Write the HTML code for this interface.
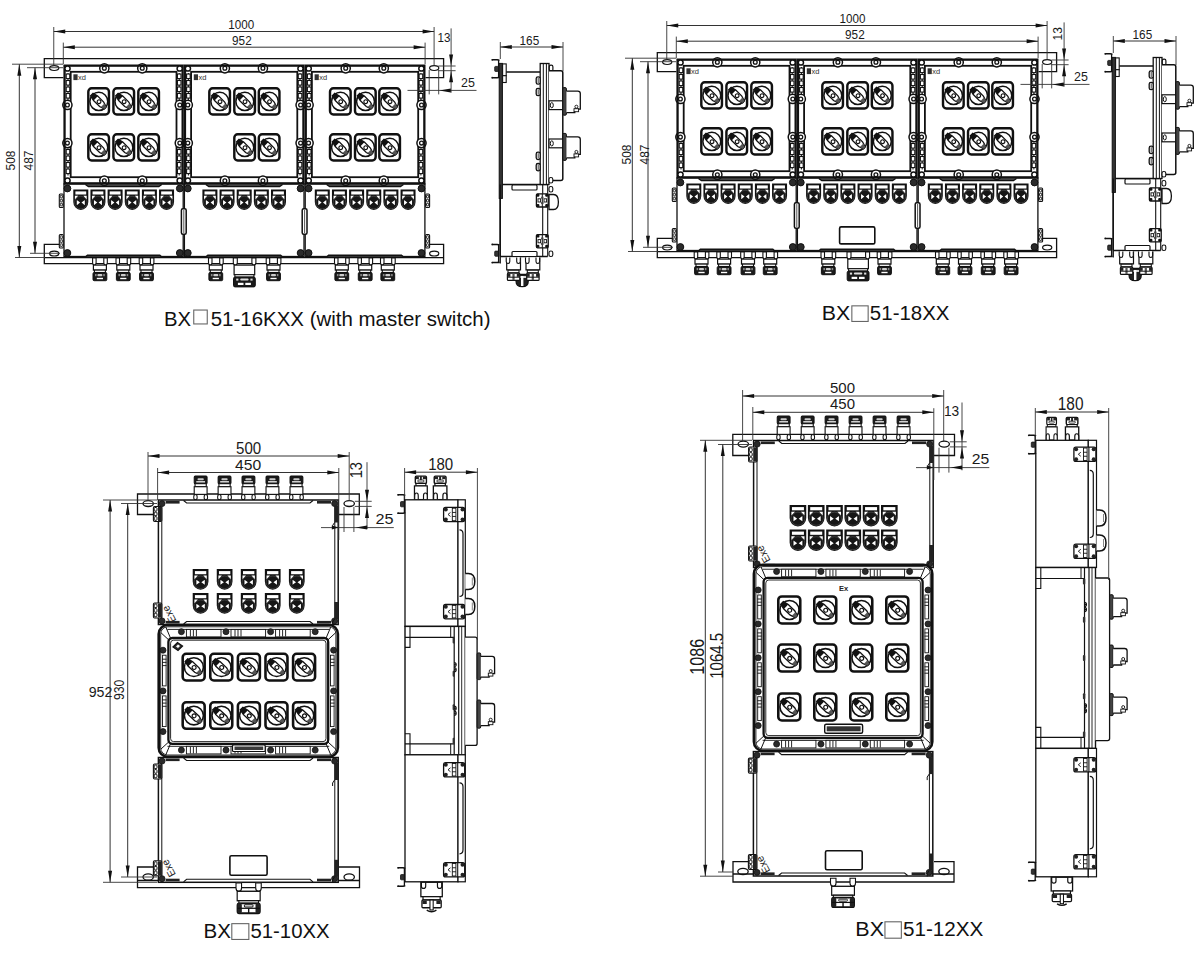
<!DOCTYPE html>
<html><head><meta charset="utf-8"><title>BX51 drawings</title>
<style>html,body{margin:0;padding:0;background:#fff;width:1200px;height:957px;overflow:hidden}
svg{display:block;font-family:"Liberation Sans",sans-serif}</style></head>
<body>
<svg width="1200" height="957" viewBox="0 0 1200 957" font-family="Liberation Sans, sans-serif">
<rect width="1200" height="957" fill="#fff"/>

<defs>
 <g id="sw">
  <rect x="1.3" y="1.3" width="22.2" height="27.4" rx="3.6" fill="#fff" stroke="#111" stroke-width="2.6"/>
  <circle cx="12.6" cy="15" r="9.6" fill="none" stroke="#111" stroke-width="1.6"/>
  <g transform="translate(12.4 14.9) rotate(44)">
   <path d="M-10.2,-1.9 L-4.5,-3.2 L4.5,-3.2 L10,-1.4 V1.4 L4.5,3.2 L-4.5,3.2 L-10.2,1.9 Z" fill="#fff" stroke="#111" stroke-width="1.35"/>
   <path d="M-10.2,-1.9 L-4.5,-3.2 V3.2 L-10.2,1.9 Z" fill="#111"/>
   <path d="M6,-2.6 L10,-1.4 V1.4 L6,2.6 Z" fill="#555"/>
   <circle cx="0.6" cy="0" r="2" fill="none" stroke="#111" stroke-width="1.2"/>
  </g>
 </g>
 <g id="so">
  <path d="M0.9,0.9 H14.3 V12.6 A6.7,7.3 0 0 1 0.9,12.6 Z" fill="#161616" stroke="#111" stroke-width="1.6"/>
  <rect x="2.2" y="2.1" width="10.8" height="3.1" fill="#fff"/>
  <path d="M1.7,6.5 L5,6.5 L1.7,10.2 Z M13.5,6.5 L10.2,6.5 L13.5,10.2 Z" fill="#fff"/>
  <circle cx="7.6" cy="13.3" r="6.3" fill="none" stroke="#666" stroke-width="0.45"/>
  <path d="M3.6,11.1 Q3.4,10.8 3.9,11 L6.9,13.3 L3.9,15.6 Q3.4,15.8 3.6,15.5 Z M11.6,11.1 Q11.8,10.8 11.3,11 L8.3,13.3 L11.3,15.6 Q11.8,15.8 11.6,15.5 Z" fill="#fff"/>
 </g>
 <g id="gl">
  <path d="M0.2,2.8 V7.4 Q0.2,9.9 1.9,9.9 Q3.7,9.9 3.7,7.4 V2.8 Z M11.4,2.8 V7.4 Q11.4,9.9 13.1,9.9 Q14.9,9.9 14.9,7.4 V2.8 Z" fill="#fff" stroke="#111" stroke-width="1.1"/>
  <rect x="1" y="9.9" width="13" height="5" fill="#fff" stroke="#111" stroke-width="1.2"/>
  <rect x="2" y="14.9" width="11" height="2.4" fill="#fff" stroke="#111" stroke-width="1.1"/>
  <rect x="0.6" y="17.3" width="13.8" height="8.2" rx="1.2" fill="#1a1a1a" stroke="#111" stroke-width="1"/>
  <rect x="5" y="18.8" width="5" height="2.2" rx="1" fill="#ccc"/>
  <rect x="2.6" y="18.8" width="1.6" height="2.2" fill="#888"/>
  <rect x="10.8" y="18.8" width="1.6" height="2.2" fill="#888"/>
  <rect x="4.4" y="22.6" width="6.2" height="1.4" fill="#fff"/>
 </g>
 <g id="glbig">
  <path d="M0.6,2.8 V7.4 Q0.6,9.9 2.6,9.9 Q4.6,9.9 4.6,7.4 V2.8 Z M19.2,2.8 V7.4 Q19.2,9.9 21.2,9.9 Q23.2,9.9 23.2,7.4 V2.8 Z" fill="#fff" stroke="#111" stroke-width="1.1"/>
  <rect x="1.4" y="9.9" width="20.6" height="9.6" fill="#fff" stroke="#111" stroke-width="1.2"/>
  <rect x="2.2" y="19.5" width="19" height="2.4" fill="#fff" stroke="#111" stroke-width="1.1"/>
  <rect x="0.8" y="21.9" width="21.8" height="9.8" rx="1.5" fill="#1a1a1a" stroke="#111" stroke-width="1"/>
  <rect x="3.5" y="23.4" width="2.2" height="2" fill="#ddd"/>
  <rect x="17.7" y="23.4" width="2.2" height="2" fill="#ddd"/>
  <rect x="7.5" y="23.4" width="8.4" height="2" rx="1" fill="#ddd"/>
  <rect x="5.2" y="27.6" width="5.6" height="2.2" fill="#fff"/>
  <rect x="12.6" y="27.6" width="5.6" height="2.2" fill="#fff"/>
 </g>
</defs>


<defs>
 <g id="glu">
  <rect x="1.2" y="0.6" width="12.6" height="7.4" rx="1" fill="#1a1a1a" stroke="#111" stroke-width="1"/>
  <rect x="4.4" y="2.6" width="6.2" height="2" rx="1" fill="#ccc"/>
  <rect x="3.2" y="5.6" width="8.6" height="1.2" fill="#fff"/>
  <rect x="2" y="8" width="11" height="3" fill="#fff" stroke="#111" stroke-width="1.1"/>
  <rect x="1.2" y="11" width="12.6" height="7.5" fill="#fff" stroke="#111" stroke-width="1.1"/>
  <ellipse cx="2.4" cy="21.3" rx="1.7" ry="2.6" fill="#fff" stroke="#111" stroke-width="1"/>
  <ellipse cx="12.6" cy="21.3" rx="1.7" ry="2.6" fill="#fff" stroke="#111" stroke-width="1"/>
 </g>
 <g id="gld">
  <path d="M-0.3,0.4 V5 Q-0.3,7.8 2.5,7.8 Q5.3,7.8 5.3,5 V0.4 Z M19.6,0.4 V5 Q19.6,7.8 22.4,7.8 Q25.2,7.8 25.2,5 V0.4 Z" fill="#fff" stroke="#111" stroke-width="1.1"/>
  <rect x="0.9" y="7.8" width="23.2" height="8.2" fill="#fff" stroke="#111" stroke-width="1.2"/>
  <rect x="2.6" y="16" width="19.8" height="2.3" fill="#fff" stroke="#111" stroke-width="1.1"/>
  <rect x="1.1" y="18.3" width="22.8" height="8.6" rx="1.8" fill="#fff" stroke="#111" stroke-width="1.6"/>
  <rect x="1.1" y="18.3" width="4.5" height="8.6" rx="1.5" fill="#222"/>
  <rect x="19.4" y="18.3" width="4.5" height="8.6" rx="1.5" fill="#222"/>
  <rect x="8" y="19.6" width="9" height="1.8" rx="0.9" fill="#fff" stroke="#111" stroke-width="0.9"/>
  <line x1="1.1" y1="22.6" x2="23.9" y2="22.6" stroke="#111" stroke-width="1.1"/>
  <rect x="11.8" y="22.6" width="1.4" height="4.3" fill="#111"/>
 </g>
 <g id="glds">
  <path d="M3,0.4 V4 Q3,6 5,6 Q7,6 7,4 V0.4 M18,0.4 V4 Q18,6 20,6 Q22,6 22,4 V0.4" fill="#fff" stroke="#111" stroke-width="1.1"/>
  <rect x="2.5" y="0.4" width="20" height="13" fill="none" stroke="#111" stroke-width="1.2"/>
  <rect x="4.5" y="13.4" width="16" height="3" fill="#fff" stroke="#111" stroke-width="1.1"/>
  <rect x="3.5" y="16.4" width="18" height="7" rx="1" fill="#fff" stroke="#111" stroke-width="1.2"/>
  <rect x="4" y="17" width="4" height="3" fill="#222"/>
  <rect x="17" y="17" width="4" height="3" fill="#222"/>
  <rect x="11" y="16.4" width="3" height="9" fill="#fff" stroke="#111" stroke-width="1"/>
  <path d="M8,25.5 Q12.5,28.5 17,25.5" fill="none" stroke="#111" stroke-width="1.3"/>
 </g>
 <g id="glus">
  <rect x="2.2" y="0.8" width="10.6" height="7.2" rx="1" fill="#fff" stroke="#111" stroke-width="1.3"/>
  <rect x="2.6" y="1.2" width="3" height="2.6" fill="#222"/>
  <rect x="9.4" y="1.2" width="3" height="2.6" fill="#222"/>
  <rect x="6.6" y="0.8" width="1.8" height="4" fill="#222"/>
  <rect x="4.5" y="4.6" width="6" height="2" rx="1" fill="#fff" stroke="#111" stroke-width="0.8"/>
  <rect x="2.8" y="8" width="9.4" height="2.4" fill="#fff" stroke="#111" stroke-width="1.1"/>
  <rect x="1.4" y="10.4" width="12.2" height="13.4" fill="#fff" stroke="#111" stroke-width="1.2"/>
  <path d="M1.6,23.8 V20 Q1.6,17.4 3.4,17.4 Q5,17.4 5,20 V23.8" fill="#fff" stroke="#111" stroke-width="1.1"/>
  <path d="M10,23.8 V20 Q10,17.4 11.8,17.4 Q13.6,17.4 13.6,20 V23.8" fill="#fff" stroke="#111" stroke-width="1.1"/>
 </g>
</defs>

<g transform="translate(0 0)">
<path d="M63.4,77.7 H44.3 V58.6 H443.6 V77.7 H425.5" fill="none" stroke="#111" stroke-width="1.3" />
<ellipse cx="54.2" cy="68.1" rx="4.6" ry="2.4" fill="none" stroke="#111" stroke-width="1.2"/>
<ellipse cx="434.2" cy="68.1" rx="4.6" ry="2.4" fill="none" stroke="#111" stroke-width="1.2"/>
<path d="M63.4,244.3 H44.3 V263.7 H443.6 V244.3 H425.5" fill="none" stroke="#111" stroke-width="1.3" />
<line x1="44.3" y1="257.7" x2="443.6" y2="257.7" stroke="#111" stroke-width="1.3"/>
<ellipse cx="54.2" cy="253.6" rx="4.6" ry="2.4" fill="none" stroke="#111" stroke-width="1.2"/>
<ellipse cx="434.2" cy="253.6" rx="4.6" ry="2.4" fill="none" stroke="#111" stroke-width="1.2"/>
<rect x="64" y="184" width="119.2" height="72.5" fill="#fff" stroke="#111" stroke-width="1.3"/>
<path d="M85.4,184.5 L88.4,186.5 H158.8 L161.8,184.5" fill="#555" stroke="#111" stroke-width="1.4" />
<path d="M85.4,257.1 L87.4,255.3 H159.8 L161.8,257.1" fill="#333" stroke="#111" stroke-width="1.4" />
<circle cx="67.4" cy="188.5" r="3.4" fill="#2a2a2a" stroke="#111" stroke-width="1"/>
<circle cx="67.4" cy="253" r="3.4" fill="#2a2a2a" stroke="#111" stroke-width="1"/>
<circle cx="179.8" cy="188.5" r="3.4" fill="#2a2a2a" stroke="#111" stroke-width="1"/>
<circle cx="179.8" cy="253" r="3.4" fill="#2a2a2a" stroke="#111" stroke-width="1"/>
<rect x="184.4" y="184" width="119.6" height="72.5" fill="#fff" stroke="#111" stroke-width="1.3"/>
<path d="M205.8,184.5 L208.8,186.5 H279.6 L282.6,184.5" fill="#555" stroke="#111" stroke-width="1.4" />
<path d="M205.8,257.1 L207.8,255.3 H280.6 L282.6,257.1" fill="#333" stroke="#111" stroke-width="1.4" />
<circle cx="187.8" cy="188.5" r="3.4" fill="#2a2a2a" stroke="#111" stroke-width="1"/>
<circle cx="187.8" cy="253" r="3.4" fill="#2a2a2a" stroke="#111" stroke-width="1"/>
<circle cx="300.6" cy="188.5" r="3.4" fill="#2a2a2a" stroke="#111" stroke-width="1"/>
<circle cx="300.6" cy="253" r="3.4" fill="#2a2a2a" stroke="#111" stroke-width="1"/>
<rect x="305.2" y="184" width="119.7" height="72.5" fill="#fff" stroke="#111" stroke-width="1.3"/>
<path d="M326.6,184.5 L329.6,186.5 H400.5 L403.5,184.5" fill="#555" stroke="#111" stroke-width="1.4" />
<path d="M326.6,257.1 L328.6,255.3 H401.5 L403.5,257.1" fill="#333" stroke="#111" stroke-width="1.4" />
<circle cx="308.6" cy="188.5" r="3.4" fill="#2a2a2a" stroke="#111" stroke-width="1"/>
<circle cx="308.6" cy="253" r="3.4" fill="#2a2a2a" stroke="#111" stroke-width="1"/>
<circle cx="421.5" cy="188.5" r="3.4" fill="#2a2a2a" stroke="#111" stroke-width="1"/>
<circle cx="421.5" cy="253" r="3.4" fill="#2a2a2a" stroke="#111" stroke-width="1"/>
<rect x="59.3" y="194" width="4" height="13.5" fill="#fff" stroke="#111" stroke-width="1.1" rx="1"/>
<rect x="60.2" y="195.3" width="2.2" height="2.6" fill="#fff" stroke="#111" stroke-width="0.9" rx="0.6"/>
<rect x="60.2" y="199.3" width="2.2" height="2.6" fill="#fff" stroke="#111" stroke-width="0.9" rx="0.6"/>
<rect x="60.2" y="203.3" width="2.2" height="2.6" fill="#fff" stroke="#111" stroke-width="0.9" rx="0.6"/>
<rect x="59.3" y="234.5" width="4" height="13.5" fill="#fff" stroke="#111" stroke-width="1.1" rx="1"/>
<rect x="60.2" y="235.8" width="2.2" height="2.6" fill="#fff" stroke="#111" stroke-width="0.9" rx="0.6"/>
<rect x="60.2" y="239.8" width="2.2" height="2.6" fill="#fff" stroke="#111" stroke-width="0.9" rx="0.6"/>
<rect x="60.2" y="243.8" width="2.2" height="2.6" fill="#fff" stroke="#111" stroke-width="0.9" rx="0.6"/>
<rect x="425.6" y="194" width="4" height="13.5" fill="#fff" stroke="#111" stroke-width="1.1" rx="1"/>
<rect x="426.5" y="195.3" width="2.2" height="2.6" fill="#fff" stroke="#111" stroke-width="0.9" rx="0.6"/>
<rect x="426.5" y="199.3" width="2.2" height="2.6" fill="#fff" stroke="#111" stroke-width="0.9" rx="0.6"/>
<rect x="426.5" y="203.3" width="2.2" height="2.6" fill="#fff" stroke="#111" stroke-width="0.9" rx="0.6"/>
<rect x="425.6" y="234.5" width="4" height="13.5" fill="#fff" stroke="#111" stroke-width="1.1" rx="1"/>
<rect x="426.5" y="235.8" width="2.2" height="2.6" fill="#fff" stroke="#111" stroke-width="0.9" rx="0.6"/>
<rect x="426.5" y="239.8" width="2.2" height="2.6" fill="#fff" stroke="#111" stroke-width="0.9" rx="0.6"/>
<rect x="426.5" y="243.8" width="2.2" height="2.6" fill="#fff" stroke="#111" stroke-width="0.9" rx="0.6"/>
<rect x="181.4" y="208.8" width="4.8" height="25.4" fill="#fff" stroke="#111" stroke-width="1.5" rx="1.5"/>
<line x1="183.8" y1="210" x2="183.8" y2="233" stroke="#555" stroke-width="1.0"/>
<rect x="302.2" y="208.8" width="4.8" height="25.4" fill="#fff" stroke="#111" stroke-width="1.5" rx="1.5"/>
<line x1="304.6" y1="210" x2="304.6" y2="233" stroke="#555" stroke-width="1.0"/>
<rect x="64.4" y="65.5" width="118.4" height="118" fill="#fff" stroke="none" stroke-width="0"/>
<line x1="68" y1="73" x2="68" y2="100" stroke="#111" stroke-width="1.0"/>
<rect x="66.2" y="74" width="3.6" height="4.6" fill="#fff" stroke="#111" stroke-width="1.1"/>
<rect x="66.2" y="80.5" width="3.6" height="4.6" fill="#fff" stroke="#111" stroke-width="1.1"/>
<rect x="66.2" y="87" width="3.6" height="4.6" fill="#fff" stroke="#111" stroke-width="1.1"/>
<rect x="66.2" y="93.5" width="3.6" height="4.6" fill="#fff" stroke="#111" stroke-width="1.1"/>
<line x1="68" y1="148.5" x2="68" y2="175.5" stroke="#111" stroke-width="1.0"/>
<rect x="66.2" y="149.5" width="3.6" height="4.6" fill="#fff" stroke="#111" stroke-width="1.1"/>
<rect x="66.2" y="156" width="3.6" height="4.6" fill="#fff" stroke="#111" stroke-width="1.1"/>
<rect x="66.2" y="162.5" width="3.6" height="4.6" fill="#fff" stroke="#111" stroke-width="1.1"/>
<rect x="66.2" y="169" width="3.6" height="4.6" fill="#fff" stroke="#111" stroke-width="1.1"/>
<line x1="179.2" y1="73" x2="179.2" y2="100" stroke="#111" stroke-width="1.0"/>
<rect x="177.4" y="74" width="3.6" height="4.6" fill="#fff" stroke="#111" stroke-width="1.1"/>
<rect x="177.4" y="80.5" width="3.6" height="4.6" fill="#fff" stroke="#111" stroke-width="1.1"/>
<rect x="177.4" y="87" width="3.6" height="4.6" fill="#fff" stroke="#111" stroke-width="1.1"/>
<rect x="177.4" y="93.5" width="3.6" height="4.6" fill="#fff" stroke="#111" stroke-width="1.1"/>
<line x1="179.2" y1="148.5" x2="179.2" y2="175.5" stroke="#111" stroke-width="1.0"/>
<rect x="177.4" y="149.5" width="3.6" height="4.6" fill="#fff" stroke="#111" stroke-width="1.1"/>
<rect x="177.4" y="156" width="3.6" height="4.6" fill="#fff" stroke="#111" stroke-width="1.1"/>
<rect x="177.4" y="162.5" width="3.6" height="4.6" fill="#fff" stroke="#111" stroke-width="1.1"/>
<rect x="177.4" y="169" width="3.6" height="4.6" fill="#fff" stroke="#111" stroke-width="1.1"/>
<rect x="70.7" y="71.8" width="105.8" height="105.4" fill="none" stroke="#111" stroke-width="1.8"/>
<circle cx="104.34" cy="68.3" r="4.6" fill="#fff" stroke="#111" stroke-width="1.5"/>
<circle cx="104.34" cy="180.7" r="4.6" fill="#fff" stroke="#111" stroke-width="1.5"/>
<circle cx="142.26" cy="68.3" r="4.6" fill="#fff" stroke="#111" stroke-width="1.5"/>
<circle cx="142.26" cy="180.7" r="4.6" fill="#fff" stroke="#111" stroke-width="1.5"/>
<circle cx="67.4" cy="104.94" r="4.6" fill="#fff" stroke="#111" stroke-width="1.5"/>
<circle cx="179.8" cy="104.94" r="4.6" fill="#fff" stroke="#111" stroke-width="1.5"/>
<circle cx="67.4" cy="143.1" r="4.6" fill="#fff" stroke="#111" stroke-width="1.5"/>
<circle cx="179.8" cy="143.1" r="4.6" fill="#fff" stroke="#111" stroke-width="1.5"/>
<rect x="64.55" y="65.65" width="118.1" height="117.7" fill="none" stroke="#111" stroke-width="2.3"/>
<circle cx="104.34" cy="68.3" r="1.9" fill="#fff" stroke="#111" stroke-width="1.3"/>
<circle cx="104.34" cy="180.7" r="1.9" fill="#fff" stroke="#111" stroke-width="1.3"/>
<circle cx="142.26" cy="68.3" r="1.9" fill="#fff" stroke="#111" stroke-width="1.3"/>
<circle cx="142.26" cy="180.7" r="1.9" fill="#fff" stroke="#111" stroke-width="1.3"/>
<circle cx="67.4" cy="104.94" r="1.9" fill="#fff" stroke="#111" stroke-width="1.3"/>
<circle cx="179.8" cy="104.94" r="1.9" fill="#fff" stroke="#111" stroke-width="1.3"/>
<circle cx="67.4" cy="143.1" r="1.9" fill="#fff" stroke="#111" stroke-width="1.3"/>
<circle cx="179.8" cy="143.1" r="1.9" fill="#fff" stroke="#111" stroke-width="1.3"/>
<circle cx="67.5" cy="68.5" r="2.6" fill="#fff" stroke="#111" stroke-width="1.5"/>
<circle cx="67.5" cy="180.5" r="2.6" fill="#fff" stroke="#111" stroke-width="1.5"/>
<circle cx="179.7" cy="68.5" r="2.6" fill="#fff" stroke="#111" stroke-width="1.5"/>
<circle cx="179.7" cy="180.5" r="2.6" fill="#fff" stroke="#111" stroke-width="1.5"/>
<rect x="184.8" y="65.5" width="118.8" height="118" fill="#fff" stroke="none" stroke-width="0"/>
<line x1="188.4" y1="73" x2="188.4" y2="100" stroke="#111" stroke-width="1.0"/>
<rect x="186.6" y="74" width="3.6" height="4.6" fill="#fff" stroke="#111" stroke-width="1.1"/>
<rect x="186.6" y="80.5" width="3.6" height="4.6" fill="#fff" stroke="#111" stroke-width="1.1"/>
<rect x="186.6" y="87" width="3.6" height="4.6" fill="#fff" stroke="#111" stroke-width="1.1"/>
<rect x="186.6" y="93.5" width="3.6" height="4.6" fill="#fff" stroke="#111" stroke-width="1.1"/>
<line x1="188.4" y1="148.5" x2="188.4" y2="175.5" stroke="#111" stroke-width="1.0"/>
<rect x="186.6" y="149.5" width="3.6" height="4.6" fill="#fff" stroke="#111" stroke-width="1.1"/>
<rect x="186.6" y="156" width="3.6" height="4.6" fill="#fff" stroke="#111" stroke-width="1.1"/>
<rect x="186.6" y="162.5" width="3.6" height="4.6" fill="#fff" stroke="#111" stroke-width="1.1"/>
<rect x="186.6" y="169" width="3.6" height="4.6" fill="#fff" stroke="#111" stroke-width="1.1"/>
<line x1="300" y1="73" x2="300" y2="100" stroke="#111" stroke-width="1.0"/>
<rect x="298.2" y="74" width="3.6" height="4.6" fill="#fff" stroke="#111" stroke-width="1.1"/>
<rect x="298.2" y="80.5" width="3.6" height="4.6" fill="#fff" stroke="#111" stroke-width="1.1"/>
<rect x="298.2" y="87" width="3.6" height="4.6" fill="#fff" stroke="#111" stroke-width="1.1"/>
<rect x="298.2" y="93.5" width="3.6" height="4.6" fill="#fff" stroke="#111" stroke-width="1.1"/>
<line x1="300" y1="148.5" x2="300" y2="175.5" stroke="#111" stroke-width="1.0"/>
<rect x="298.2" y="149.5" width="3.6" height="4.6" fill="#fff" stroke="#111" stroke-width="1.1"/>
<rect x="298.2" y="156" width="3.6" height="4.6" fill="#fff" stroke="#111" stroke-width="1.1"/>
<rect x="298.2" y="162.5" width="3.6" height="4.6" fill="#fff" stroke="#111" stroke-width="1.1"/>
<rect x="298.2" y="169" width="3.6" height="4.6" fill="#fff" stroke="#111" stroke-width="1.1"/>
<rect x="191.1" y="71.8" width="106.2" height="105.4" fill="none" stroke="#111" stroke-width="1.8"/>
<circle cx="224.87" cy="68.3" r="4.6" fill="#fff" stroke="#111" stroke-width="1.5"/>
<circle cx="224.87" cy="180.7" r="4.6" fill="#fff" stroke="#111" stroke-width="1.5"/>
<circle cx="262.92" cy="68.3" r="4.6" fill="#fff" stroke="#111" stroke-width="1.5"/>
<circle cx="262.92" cy="180.7" r="4.6" fill="#fff" stroke="#111" stroke-width="1.5"/>
<circle cx="187.8" cy="104.94" r="4.6" fill="#fff" stroke="#111" stroke-width="1.5"/>
<circle cx="300.6" cy="104.94" r="4.6" fill="#fff" stroke="#111" stroke-width="1.5"/>
<circle cx="187.8" cy="143.1" r="4.6" fill="#fff" stroke="#111" stroke-width="1.5"/>
<circle cx="300.6" cy="143.1" r="4.6" fill="#fff" stroke="#111" stroke-width="1.5"/>
<rect x="184.95" y="65.65" width="118.5" height="117.7" fill="none" stroke="#111" stroke-width="2.3"/>
<circle cx="224.87" cy="68.3" r="1.9" fill="#fff" stroke="#111" stroke-width="1.3"/>
<circle cx="224.87" cy="180.7" r="1.9" fill="#fff" stroke="#111" stroke-width="1.3"/>
<circle cx="262.92" cy="68.3" r="1.9" fill="#fff" stroke="#111" stroke-width="1.3"/>
<circle cx="262.92" cy="180.7" r="1.9" fill="#fff" stroke="#111" stroke-width="1.3"/>
<circle cx="187.8" cy="104.94" r="1.9" fill="#fff" stroke="#111" stroke-width="1.3"/>
<circle cx="300.6" cy="104.94" r="1.9" fill="#fff" stroke="#111" stroke-width="1.3"/>
<circle cx="187.8" cy="143.1" r="1.9" fill="#fff" stroke="#111" stroke-width="1.3"/>
<circle cx="300.6" cy="143.1" r="1.9" fill="#fff" stroke="#111" stroke-width="1.3"/>
<circle cx="187.9" cy="68.5" r="2.6" fill="#fff" stroke="#111" stroke-width="1.5"/>
<circle cx="187.9" cy="180.5" r="2.6" fill="#fff" stroke="#111" stroke-width="1.5"/>
<circle cx="300.5" cy="68.5" r="2.6" fill="#fff" stroke="#111" stroke-width="1.5"/>
<circle cx="300.5" cy="180.5" r="2.6" fill="#fff" stroke="#111" stroke-width="1.5"/>
<rect x="305.6" y="65.5" width="118.9" height="118" fill="#fff" stroke="none" stroke-width="0"/>
<line x1="309.2" y1="73" x2="309.2" y2="100" stroke="#111" stroke-width="1.0"/>
<rect x="307.4" y="74" width="3.6" height="4.6" fill="#fff" stroke="#111" stroke-width="1.1"/>
<rect x="307.4" y="80.5" width="3.6" height="4.6" fill="#fff" stroke="#111" stroke-width="1.1"/>
<rect x="307.4" y="87" width="3.6" height="4.6" fill="#fff" stroke="#111" stroke-width="1.1"/>
<rect x="307.4" y="93.5" width="3.6" height="4.6" fill="#fff" stroke="#111" stroke-width="1.1"/>
<line x1="309.2" y1="148.5" x2="309.2" y2="175.5" stroke="#111" stroke-width="1.0"/>
<rect x="307.4" y="149.5" width="3.6" height="4.6" fill="#fff" stroke="#111" stroke-width="1.1"/>
<rect x="307.4" y="156" width="3.6" height="4.6" fill="#fff" stroke="#111" stroke-width="1.1"/>
<rect x="307.4" y="162.5" width="3.6" height="4.6" fill="#fff" stroke="#111" stroke-width="1.1"/>
<rect x="307.4" y="169" width="3.6" height="4.6" fill="#fff" stroke="#111" stroke-width="1.1"/>
<line x1="420.9" y1="73" x2="420.9" y2="100" stroke="#111" stroke-width="1.0"/>
<rect x="419.1" y="74" width="3.6" height="4.6" fill="#fff" stroke="#111" stroke-width="1.1"/>
<rect x="419.1" y="80.5" width="3.6" height="4.6" fill="#fff" stroke="#111" stroke-width="1.1"/>
<rect x="419.1" y="87" width="3.6" height="4.6" fill="#fff" stroke="#111" stroke-width="1.1"/>
<rect x="419.1" y="93.5" width="3.6" height="4.6" fill="#fff" stroke="#111" stroke-width="1.1"/>
<line x1="420.9" y1="148.5" x2="420.9" y2="175.5" stroke="#111" stroke-width="1.0"/>
<rect x="419.1" y="149.5" width="3.6" height="4.6" fill="#fff" stroke="#111" stroke-width="1.1"/>
<rect x="419.1" y="156" width="3.6" height="4.6" fill="#fff" stroke="#111" stroke-width="1.1"/>
<rect x="419.1" y="162.5" width="3.6" height="4.6" fill="#fff" stroke="#111" stroke-width="1.1"/>
<rect x="419.1" y="169" width="3.6" height="4.6" fill="#fff" stroke="#111" stroke-width="1.1"/>
<rect x="311.9" y="71.8" width="106.3" height="105.4" fill="none" stroke="#111" stroke-width="1.8"/>
<circle cx="345.71" cy="68.3" r="4.6" fill="#fff" stroke="#111" stroke-width="1.5"/>
<circle cx="345.71" cy="180.7" r="4.6" fill="#fff" stroke="#111" stroke-width="1.5"/>
<circle cx="383.79" cy="68.3" r="4.6" fill="#fff" stroke="#111" stroke-width="1.5"/>
<circle cx="383.79" cy="180.7" r="4.6" fill="#fff" stroke="#111" stroke-width="1.5"/>
<circle cx="308.6" cy="104.94" r="4.6" fill="#fff" stroke="#111" stroke-width="1.5"/>
<circle cx="421.5" cy="104.94" r="4.6" fill="#fff" stroke="#111" stroke-width="1.5"/>
<circle cx="308.6" cy="143.1" r="4.6" fill="#fff" stroke="#111" stroke-width="1.5"/>
<circle cx="421.5" cy="143.1" r="4.6" fill="#fff" stroke="#111" stroke-width="1.5"/>
<rect x="305.75" y="65.65" width="118.6" height="117.7" fill="none" stroke="#111" stroke-width="2.3"/>
<circle cx="345.71" cy="68.3" r="1.9" fill="#fff" stroke="#111" stroke-width="1.3"/>
<circle cx="345.71" cy="180.7" r="1.9" fill="#fff" stroke="#111" stroke-width="1.3"/>
<circle cx="383.79" cy="68.3" r="1.9" fill="#fff" stroke="#111" stroke-width="1.3"/>
<circle cx="383.79" cy="180.7" r="1.9" fill="#fff" stroke="#111" stroke-width="1.3"/>
<circle cx="308.6" cy="104.94" r="1.9" fill="#fff" stroke="#111" stroke-width="1.3"/>
<circle cx="421.5" cy="104.94" r="1.9" fill="#fff" stroke="#111" stroke-width="1.3"/>
<circle cx="308.6" cy="143.1" r="1.9" fill="#fff" stroke="#111" stroke-width="1.3"/>
<circle cx="421.5" cy="143.1" r="1.9" fill="#fff" stroke="#111" stroke-width="1.3"/>
<circle cx="308.7" cy="68.5" r="2.6" fill="#fff" stroke="#111" stroke-width="1.5"/>
<circle cx="308.7" cy="180.5" r="2.6" fill="#fff" stroke="#111" stroke-width="1.5"/>
<circle cx="421.4" cy="68.5" r="2.6" fill="#fff" stroke="#111" stroke-width="1.5"/>
<circle cx="421.4" cy="180.5" r="2.6" fill="#fff" stroke="#111" stroke-width="1.5"/>
<rect x="73.4" y="74.3" width="4.2" height="5.8" fill="#333"/>
<text x="78" y="80.2" font-size="7.5" text-anchor="start" fill="#333">xd</text>
<rect x="193.8" y="74.3" width="4.2" height="5.8" fill="#333"/>
<text x="198.4" y="80.2" font-size="7.5" text-anchor="start" fill="#333">xd</text>
<rect x="314.6" y="74.3" width="4.2" height="5.8" fill="#333"/>
<text x="319.2" y="80.2" font-size="7.5" text-anchor="start" fill="#333">xd</text>
<use href="#sw" transform="translate(87.1 87.1) scale(0.93 0.953)"/>
<use href="#sw" transform="translate(112.2 87.1) scale(0.93 0.953)"/>
<use href="#sw" transform="translate(137.1 87.1) scale(0.93 0.953)"/>
<use href="#sw" transform="translate(87.1 133.1) scale(0.93 0.953)"/>
<use href="#sw" transform="translate(112.2 133.1) scale(0.93 0.953)"/>
<use href="#sw" transform="translate(137.1 133.1) scale(0.93 0.953)"/>
<use href="#sw" transform="translate(208.1 87.1) scale(0.93 0.953)"/>
<use href="#sw" transform="translate(233.1 87.1) scale(0.93 0.953)"/>
<use href="#sw" transform="translate(257.6 87.1) scale(0.93 0.953)"/>
<use href="#sw" transform="translate(233.1 133.1) scale(0.93 0.953)"/>
<use href="#sw" transform="translate(257.6 133.1) scale(0.93 0.953)"/>
<use href="#sw" transform="translate(328.8 87.1) scale(0.93 0.953)"/>
<use href="#sw" transform="translate(353.8 87.1) scale(0.93 0.953)"/>
<use href="#sw" transform="translate(378.1 87.1) scale(0.93 0.953)"/>
<use href="#sw" transform="translate(328.8 133.1) scale(0.93 0.953)"/>
<use href="#sw" transform="translate(353.8 133.1) scale(0.93 0.953)"/>
<use href="#sw" transform="translate(378.1 133.1) scale(0.93 0.953)"/>
<use href="#so" x="73.2" y="189.3" />
<use href="#so" x="90.35" y="189.3" />
<use href="#so" x="107.5" y="189.3" />
<use href="#so" x="124.65" y="189.3" />
<use href="#so" x="141.8" y="189.3" />
<use href="#so" x="158.95" y="189.3" />
<use href="#so" x="202.3" y="189.3" />
<use href="#so" x="219.45" y="189.3" />
<use href="#so" x="236.6" y="189.3" />
<use href="#so" x="253.75" y="189.3" />
<use href="#so" x="270.9" y="189.3" />
<use href="#so" x="314.7" y="189.3" />
<use href="#so" x="331.85" y="189.3" />
<use href="#so" x="349" y="189.3" />
<use href="#so" x="366.15" y="189.3" />
<use href="#so" x="383.3" y="189.3" />
<use href="#so" x="400.45" y="189.3" />
<use href="#gl" x="92.4" y="255.2" />
<use href="#gl" x="115.8" y="255.2" />
<use href="#gl" x="139" y="255.2" />
<use href="#gl" x="208.3" y="255.2" />
<use href="#gl" x="266" y="255.2" />
<use href="#gl" x="334.3" y="255.2" />
<use href="#gl" x="357.7" y="255.2" />
<use href="#gl" x="380.3" y="255.2" />
<use href="#glbig" x="232.7" y="255.2" />
</g>
<g transform="translate(0 0)">
<line x1="53.75" y1="27" x2="53.75" y2="65.5" stroke="#333" stroke-width="0.9"/>
<line x1="434.1" y1="27" x2="434.1" y2="65.5" stroke="#333" stroke-width="0.9"/>
<line x1="53.75" y1="31.5" x2="434.1" y2="31.5" stroke="#333" stroke-width="1.0"/>
<polygon points="53.75,31.5 65.25,29.5 65.25,33.5" fill="#111"/>
<polygon points="434.1,31.5 422.6,29.5 422.6,33.5" fill="#111"/>
<text x="228.31" y="28.75" font-size="12.5" textLength="25.88" lengthAdjust="spacingAndGlyphs" fill="#1a1a1a">1000</text>
<line x1="63.3" y1="42.6" x2="63.3" y2="64" stroke="#333" stroke-width="0.9"/>
<line x1="425.1" y1="42.6" x2="425.1" y2="64" stroke="#333" stroke-width="0.9"/>
<line x1="63.3" y1="47.2" x2="425.1" y2="47.2" stroke="#333" stroke-width="1.0"/>
<polygon points="63.3,47.2 74.8,45.2 74.8,49.2" fill="#111"/>
<polygon points="425.1,47.2 413.6,45.2 413.6,49.2" fill="#111"/>
<text x="232.06" y="44.5" font-size="12.5" textLength="19.62" lengthAdjust="spacingAndGlyphs" fill="#1a1a1a">952</text>
<line x1="451.1" y1="28.4" x2="451.1" y2="92.7" stroke="#333" stroke-width="0.9"/>
<polygon points="451.1,66 449.1,54.5 453.1,54.5" fill="#111"/>
<polygon points="451.1,70.8 449.1,82.3 453.1,82.3" fill="#111"/>
<line x1="438.4" y1="66" x2="455.6" y2="66" stroke="#333" stroke-width="0.9"/>
<line x1="438.4" y1="70.7" x2="455.6" y2="70.7" stroke="#333" stroke-width="0.9"/>
<text x="437.58" y="41.7" font-size="11.86" textLength="12.93" lengthAdjust="spacingAndGlyphs" fill="#1a1a1a">13</text>
<line x1="429.2" y1="70" x2="429.2" y2="94.4" stroke="#333" stroke-width="0.9"/>
<line x1="438.7" y1="70" x2="438.7" y2="94.4" stroke="#333" stroke-width="0.9"/>
<line x1="407.5" y1="90.4" x2="476.5" y2="90.4" stroke="#333" stroke-width="0.9"/>
<polygon points="439.3,90.4 450.8,88.4 450.8,92.4" fill="#111"/>
<text x="460.98" y="86.9" font-size="12" textLength="13.84" lengthAdjust="spacingAndGlyphs" fill="#1a1a1a">25</text>
<line x1="12" y1="64.2" x2="63" y2="64.2" stroke="#333" stroke-width="0.9"/>
<line x1="27" y1="67.7" x2="63" y2="67.7" stroke="#333" stroke-width="0.9"/>
<line x1="15" y1="257.5" x2="45" y2="257.5" stroke="#333" stroke-width="0.9"/>
<line x1="30" y1="253.3" x2="60" y2="253.3" stroke="#333" stroke-width="0.9"/>
<line x1="19.3" y1="64.2" x2="19.3" y2="257.5" stroke="#333" stroke-width="1.0"/>
<polygon points="19.3,64.2 17.3,75.7 21.3,75.7" fill="#111"/>
<polygon points="19.3,257.5 17.3,246 21.3,246" fill="#111"/>
<line x1="35" y1="67.7" x2="35" y2="253.3" stroke="#333" stroke-width="1.0"/>
<polygon points="35,67.7 33,79.2 37,79.2" fill="#111"/>
<polygon points="35,253.3 33,241.8 37,241.8" fill="#111"/>
<text x="15.5" y="170.46" font-size="13.21" textLength="19.93" lengthAdjust="spacingAndGlyphs" fill="#1a1a1a" transform="rotate(-90 15.5 170.46)">508</text>
<text x="33.5" y="170.43" font-size="12.14" textLength="19.85" lengthAdjust="spacingAndGlyphs" fill="#1a1a1a" transform="rotate(-90 33.5 170.43)">487</text>
<line x1="500.3" y1="42" x2="500.3" y2="59" stroke="#333" stroke-width="0.9"/>
<line x1="563" y1="42" x2="563" y2="71" stroke="#333" stroke-width="0.9"/>
<line x1="500.3" y1="47" x2="563" y2="47" stroke="#333" stroke-width="1.0"/>
<polygon points="500.3,47 511.8,45 511.8,49" fill="#111"/>
<polygon points="563,47 551.5,45 551.5,49" fill="#111"/>
<text x="519.55" y="45" font-size="12.86" textLength="19.65" lengthAdjust="spacingAndGlyphs" fill="#1a1a1a">165</text>
</g>
<g transform="translate(0 0)">
<rect x="499.2" y="63.4" width="3.2" height="135" fill="#333" stroke="#111" stroke-width="1.0"/>
<line x1="500.2" y1="198" x2="500.2" y2="263.4" stroke="#111" stroke-width="1.4"/>
<path d="M499.4,60.5 Q498.7,59.8 497.2,59.8 H492.2 M499.4,77 Q498.7,77.7 497.2,77.7 H492.2" fill="none" stroke="#111" stroke-width="1.5" />
<line x1="498.6" y1="60.2" x2="498.6" y2="77.3" stroke="#111" stroke-width="1.3"/>
<circle cx="492.2" cy="59.8" r="0.9" fill="#111"/>
<circle cx="492.2" cy="77.7" r="0.9" fill="#111"/>
<rect x="494.7" y="66.41" width="3.8" height="5.07" fill="#333" stroke="#111" stroke-width="0.8" rx="0.8"/>
<path d="M499.4,245.1 Q498.7,244.4 497.2,244.4 H492.2 M499.4,261.9 Q498.7,262.6 497.2,262.6 H492.2" fill="none" stroke="#111" stroke-width="1.5" />
<line x1="498.6" y1="244.8" x2="498.6" y2="262.2" stroke="#111" stroke-width="1.3"/>
<circle cx="492.2" cy="244.4" r="0.9" fill="#111"/>
<circle cx="492.2" cy="262.6" r="0.9" fill="#111"/>
<rect x="494.7" y="251.12" width="3.8" height="5.15" fill="#333" stroke="#111" stroke-width="0.8" rx="0.8"/>
<rect x="502.6" y="63.9" width="3.6" height="11.8" fill="#fff" stroke="#111" stroke-width="1.1"/>
<rect x="502.6" y="75.7" width="3.6" height="6.8" fill="#fff" stroke="#111" stroke-width="1.1"/>
<line x1="506.3" y1="72" x2="540.2" y2="72" stroke="#111" stroke-width="1.4"/>
<line x1="502.4" y1="184.4" x2="547.7" y2="184.4" stroke="#111" stroke-width="1.5"/>
<rect x="540.2" y="63.5" width="8.8" height="121" fill="#fff" stroke="#111" stroke-width="1.3"/>
<line x1="543.3" y1="63.5" x2="543.3" y2="184.4" stroke="#111" stroke-width="1.0"/>
<line x1="546.4" y1="63.5" x2="546.4" y2="184.4" stroke="#111" stroke-width="1.0"/>
<rect x="549.3" y="65.2" width="3.6" height="5.8" fill="#fff" stroke="#111" stroke-width="1.2" rx="1.6"/>
<rect x="536.2" y="76.8" width="4" height="7.4" fill="#fff" stroke="#111" stroke-width="1.3" rx="1.8"/>
<line x1="538.2" y1="77.8" x2="538.2" y2="83.2" stroke="#444" stroke-width="1.0"/>
<rect x="536.2" y="88.3" width="4" height="7.4" fill="#fff" stroke="#111" stroke-width="1.3" rx="1.8"/>
<line x1="538.2" y1="89.3" x2="538.2" y2="94.7" stroke="#444" stroke-width="1.0"/>
<rect x="536.2" y="152.2" width="4" height="7.4" fill="#fff" stroke="#111" stroke-width="1.3" rx="1.8"/>
<line x1="538.2" y1="153.2" x2="538.2" y2="158.6" stroke="#444" stroke-width="1.0"/>
<rect x="536.2" y="163.5" width="4" height="7.4" fill="#fff" stroke="#111" stroke-width="1.3" rx="1.8"/>
<line x1="538.2" y1="164.5" x2="538.2" y2="169.9" stroke="#444" stroke-width="1.0"/>
<path d="M549,70.7 H560.8 Q562.8,70.7 562.8,72.7 V178.5 Q562.8,180.5 560.8,180.5 H549" fill="#fff" stroke="#111" stroke-width="1.5" />
<rect x="549" y="100.8" width="13.8" height="8.8" fill="#fff" stroke="#111" stroke-width="1.2"/>
<ellipse cx="551.8" cy="105.2" rx="1.5" ry="2.6" fill="#fff" stroke="#111" stroke-width="1"/>
<rect x="549" y="139" width="13.8" height="8.8" fill="#fff" stroke="#111" stroke-width="1.2"/>
<ellipse cx="551.8" cy="143.4" rx="1.5" ry="2.6" fill="#fff" stroke="#111" stroke-width="1"/>
<rect x="562.8" y="87.6" width="3.6" height="27.6" rx="1.2" fill="#444" stroke="#111" stroke-width="1"/>
<path d="M566.4,91.1 H577.8 Q580.3,91.1 580.3,93.6 V109.2 H574.8 V112.7 H566.4" fill="#fff" stroke="#111" stroke-width="1.3" />
<circle cx="576.4" cy="106.7" r="1.5" fill="none" stroke="#111" stroke-width="0.9"/>
<rect x="574" y="108.7" width="4.6" height="3" fill="#fff" stroke="#111" stroke-width="0.9"/>
<rect x="562.8" y="133.4" width="3.6" height="27" rx="1.2" fill="#444" stroke="#111" stroke-width="1"/>
<path d="M566.4,136.9 H577.8 Q580.3,136.9 580.3,139.4 V154.4 H574.8 V157.9 H566.4" fill="#fff" stroke="#111" stroke-width="1.3" />
<circle cx="576.4" cy="151.9" r="1.5" fill="none" stroke="#111" stroke-width="0.9"/>
<rect x="574" y="153.9" width="4.6" height="3" fill="#fff" stroke="#111" stroke-width="0.9"/>
<line x1="500.2" y1="184.4" x2="500.2" y2="256.5" stroke="#111" stroke-width="1.3"/>
<line x1="500.2" y1="256.5" x2="547.7" y2="256.5" stroke="#111" stroke-width="1.5"/>
<line x1="542.7" y1="184.4" x2="542.7" y2="256.5" stroke="#111" stroke-width="1.1"/>
<line x1="547.7" y1="184.4" x2="547.7" y2="256.5" stroke="#111" stroke-width="1.1"/>
<rect x="512" y="185" width="25" height="5" fill="#fff" stroke="#111" stroke-width="1.2" rx="1"/>
<rect x="512" y="251.5" width="25" height="5" fill="#fff" stroke="#111" stroke-width="1.2" rx="1"/>
<rect x="536.4" y="193.8" width="11.8" height="13.2" fill="#fff" stroke="#111" stroke-width="1.3" rx="1.2"/>
<rect x="536.4" y="193.8" width="3" height="3" fill="#111" stroke="none" stroke-width="0" rx="1.2"/>
<rect x="545.2" y="193.8" width="3" height="3" fill="#111" stroke="none" stroke-width="0" rx="1.2"/>
<rect x="536.4" y="204" width="3" height="3" fill="#111" stroke="none" stroke-width="0" rx="1.2"/>
<rect x="545.2" y="204" width="3" height="3" fill="#111" stroke="none" stroke-width="0" rx="1.2"/>
<line x1="542.3" y1="193.8" x2="542.3" y2="207" stroke="#111" stroke-width="1.0"/>
<rect x="538" y="198.8" width="2.6" height="3.2" fill="#fff" stroke="#111" stroke-width="0.9"/>
<rect x="544" y="198.8" width="2.6" height="3.2" fill="#fff" stroke="#111" stroke-width="0.9"/>
<rect x="541.1" y="196.7" width="2.4" height="2" fill="#444" stroke="none" stroke-width="0"/>
<rect x="541.1" y="202.1" width="2.4" height="2" fill="#444" stroke="none" stroke-width="0"/>
<rect x="536.4" y="234.6" width="11.8" height="13.2" fill="#fff" stroke="#111" stroke-width="1.3" rx="1.2"/>
<rect x="536.4" y="234.6" width="3" height="3" fill="#111" stroke="none" stroke-width="0" rx="1.2"/>
<rect x="545.2" y="234.6" width="3" height="3" fill="#111" stroke="none" stroke-width="0" rx="1.2"/>
<rect x="536.4" y="244.8" width="3" height="3" fill="#111" stroke="none" stroke-width="0" rx="1.2"/>
<rect x="545.2" y="244.8" width="3" height="3" fill="#111" stroke="none" stroke-width="0" rx="1.2"/>
<line x1="542.3" y1="234.6" x2="542.3" y2="247.8" stroke="#111" stroke-width="1.0"/>
<rect x="538" y="239.6" width="2.6" height="3.2" fill="#fff" stroke="#111" stroke-width="0.9"/>
<rect x="544" y="239.6" width="2.6" height="3.2" fill="#fff" stroke="#111" stroke-width="0.9"/>
<rect x="541.1" y="237.5" width="2.4" height="2" fill="#444" stroke="none" stroke-width="0"/>
<rect x="541.1" y="242.9" width="2.4" height="2" fill="#444" stroke="none" stroke-width="0"/>
<path d="M549,194.5 H553.5 Q558.4,194.5 558.4,202 Q558.4,209.5 553.5,209.5 H549 Z" fill="#fff" stroke="#111" stroke-width="1.3" />
<rect x="549" y="177.5" width="3.8" height="5.5" rx="1.8" fill="#fff" stroke="#111" stroke-width="1.1"/>
<rect x="549" y="186.5" width="3.8" height="5.5" rx="1.8" fill="#fff" stroke="#111" stroke-width="1.1"/>
<rect x="549" y="251" width="3.8" height="5.5" rx="1.8" fill="#fff" stroke="#111" stroke-width="1.1"/>
<path d="M516,274.4 H528.3 V281 Q528.3,286.7 522.2,286.7 Q516,286.7 516,281 Z" fill="#222" stroke="#111" stroke-width="1.2" />
<rect x="521" y="276" width="2.4" height="10" fill="#fff" stroke="none" stroke-width="0"/>
<rect x="517.5" y="276.2" width="9.5" height="1.6" fill="#fff" stroke="none" stroke-width="0"/>
<path d="M506.7,257.5 V269.8 H520.5 V257.5" fill="#fff" stroke="#111" stroke-width="1.2" />
<path d="M506.2,257.6 V261.5 Q506.2,263.5 508,263.5 Q509.8,263.5 509.8,261.5 V257.6" fill="#fff" stroke="#111" stroke-width="1.1" />
<path d="M516.7,257.6 V261.5 Q516.7,263.5 518.5,263.5 Q520.3,263.5 520.3,261.5 V257.6" fill="#fff" stroke="#111" stroke-width="1.1" />
<rect x="508" y="270.2" width="11" height="2.6" fill="#fff" stroke="#111" stroke-width="1.1"/>
<rect x="507.4" y="273.2" width="12.4" height="7.2" fill="#fff" stroke="#111" stroke-width="1.2" rx="1"/>
<rect x="507.4" y="273.6" width="3" height="3.2" fill="#222" stroke="none" stroke-width="0"/>
<rect x="516.8" y="273.6" width="3" height="3.2" fill="#222" stroke="none" stroke-width="0"/>
<rect x="512.4" y="273.6" width="2.2" height="6.5" fill="#555" stroke="none" stroke-width="0"/>
<line x1="507.4" y1="277.2" x2="519.8" y2="277.2" stroke="#111" stroke-width="1.0"/>
<path d="M526,257.5 V269.8 H539.8 V257.5" fill="#fff" stroke="#111" stroke-width="1.2" />
<path d="M525.5,257.6 V261.5 Q525.5,263.5 527.3,263.5 Q529.1,263.5 529.1,261.5 V257.6" fill="#fff" stroke="#111" stroke-width="1.1" />
<path d="M536,257.6 V261.5 Q536,263.5 537.8,263.5 Q539.6,263.5 539.6,261.5 V257.6" fill="#fff" stroke="#111" stroke-width="1.1" />
<rect x="527.3" y="270.2" width="11" height="2.6" fill="#fff" stroke="#111" stroke-width="1.1"/>
<rect x="526.7" y="273.2" width="12.4" height="7.2" fill="#fff" stroke="#111" stroke-width="1.2" rx="1"/>
<rect x="526.7" y="273.6" width="3" height="3.2" fill="#222" stroke="none" stroke-width="0"/>
<rect x="536.1" y="273.6" width="3" height="3.2" fill="#222" stroke="none" stroke-width="0"/>
<rect x="531.7" y="273.6" width="2.2" height="6.5" fill="#555" stroke="none" stroke-width="0"/>
<line x1="526.7" y1="277.2" x2="539.1" y2="277.2" stroke="#111" stroke-width="1.0"/>
</g>
<g transform="translate(613 -6)">
<path d="M63.4,77.7 H44.3 V58.6 H443.6 V77.7 H425.5" fill="none" stroke="#111" stroke-width="1.3" />
<ellipse cx="54.2" cy="68.1" rx="4.6" ry="2.4" fill="none" stroke="#111" stroke-width="1.2"/>
<ellipse cx="434.2" cy="68.1" rx="4.6" ry="2.4" fill="none" stroke="#111" stroke-width="1.2"/>
<path d="M63.4,244.3 H44.3 V263.7 H443.6 V244.3 H425.5" fill="none" stroke="#111" stroke-width="1.3" />
<line x1="44.3" y1="257.7" x2="443.6" y2="257.7" stroke="#111" stroke-width="1.3"/>
<ellipse cx="54.2" cy="253.6" rx="4.6" ry="2.4" fill="none" stroke="#111" stroke-width="1.2"/>
<ellipse cx="434.2" cy="253.6" rx="4.6" ry="2.4" fill="none" stroke="#111" stroke-width="1.2"/>
<rect x="64" y="184" width="119.2" height="72.5" fill="#fff" stroke="#111" stroke-width="1.3"/>
<path d="M85.4,184.5 L88.4,186.5 H158.8 L161.8,184.5" fill="#555" stroke="#111" stroke-width="1.4" />
<path d="M85.4,257.1 L87.4,255.3 H159.8 L161.8,257.1" fill="#333" stroke="#111" stroke-width="1.4" />
<circle cx="67.4" cy="188.5" r="3.4" fill="#2a2a2a" stroke="#111" stroke-width="1"/>
<circle cx="67.4" cy="253" r="3.4" fill="#2a2a2a" stroke="#111" stroke-width="1"/>
<circle cx="179.8" cy="188.5" r="3.4" fill="#2a2a2a" stroke="#111" stroke-width="1"/>
<circle cx="179.8" cy="253" r="3.4" fill="#2a2a2a" stroke="#111" stroke-width="1"/>
<rect x="184.4" y="184" width="119.6" height="72.5" fill="#fff" stroke="#111" stroke-width="1.3"/>
<path d="M205.8,184.5 L208.8,186.5 H279.6 L282.6,184.5" fill="#555" stroke="#111" stroke-width="1.4" />
<path d="M205.8,257.1 L207.8,255.3 H280.6 L282.6,257.1" fill="#333" stroke="#111" stroke-width="1.4" />
<circle cx="187.8" cy="188.5" r="3.4" fill="#2a2a2a" stroke="#111" stroke-width="1"/>
<circle cx="187.8" cy="253" r="3.4" fill="#2a2a2a" stroke="#111" stroke-width="1"/>
<circle cx="300.6" cy="188.5" r="3.4" fill="#2a2a2a" stroke="#111" stroke-width="1"/>
<circle cx="300.6" cy="253" r="3.4" fill="#2a2a2a" stroke="#111" stroke-width="1"/>
<rect x="305.2" y="184" width="119.7" height="72.5" fill="#fff" stroke="#111" stroke-width="1.3"/>
<path d="M326.6,184.5 L329.6,186.5 H400.5 L403.5,184.5" fill="#555" stroke="#111" stroke-width="1.4" />
<path d="M326.6,257.1 L328.6,255.3 H401.5 L403.5,257.1" fill="#333" stroke="#111" stroke-width="1.4" />
<circle cx="308.6" cy="188.5" r="3.4" fill="#2a2a2a" stroke="#111" stroke-width="1"/>
<circle cx="308.6" cy="253" r="3.4" fill="#2a2a2a" stroke="#111" stroke-width="1"/>
<circle cx="421.5" cy="188.5" r="3.4" fill="#2a2a2a" stroke="#111" stroke-width="1"/>
<circle cx="421.5" cy="253" r="3.4" fill="#2a2a2a" stroke="#111" stroke-width="1"/>
<rect x="59.3" y="194" width="4" height="13.5" fill="#fff" stroke="#111" stroke-width="1.1" rx="1"/>
<rect x="60.2" y="195.3" width="2.2" height="2.6" fill="#fff" stroke="#111" stroke-width="0.9" rx="0.6"/>
<rect x="60.2" y="199.3" width="2.2" height="2.6" fill="#fff" stroke="#111" stroke-width="0.9" rx="0.6"/>
<rect x="60.2" y="203.3" width="2.2" height="2.6" fill="#fff" stroke="#111" stroke-width="0.9" rx="0.6"/>
<rect x="59.3" y="234.5" width="4" height="13.5" fill="#fff" stroke="#111" stroke-width="1.1" rx="1"/>
<rect x="60.2" y="235.8" width="2.2" height="2.6" fill="#fff" stroke="#111" stroke-width="0.9" rx="0.6"/>
<rect x="60.2" y="239.8" width="2.2" height="2.6" fill="#fff" stroke="#111" stroke-width="0.9" rx="0.6"/>
<rect x="60.2" y="243.8" width="2.2" height="2.6" fill="#fff" stroke="#111" stroke-width="0.9" rx="0.6"/>
<rect x="425.6" y="194" width="4" height="13.5" fill="#fff" stroke="#111" stroke-width="1.1" rx="1"/>
<rect x="426.5" y="195.3" width="2.2" height="2.6" fill="#fff" stroke="#111" stroke-width="0.9" rx="0.6"/>
<rect x="426.5" y="199.3" width="2.2" height="2.6" fill="#fff" stroke="#111" stroke-width="0.9" rx="0.6"/>
<rect x="426.5" y="203.3" width="2.2" height="2.6" fill="#fff" stroke="#111" stroke-width="0.9" rx="0.6"/>
<rect x="425.6" y="234.5" width="4" height="13.5" fill="#fff" stroke="#111" stroke-width="1.1" rx="1"/>
<rect x="426.5" y="235.8" width="2.2" height="2.6" fill="#fff" stroke="#111" stroke-width="0.9" rx="0.6"/>
<rect x="426.5" y="239.8" width="2.2" height="2.6" fill="#fff" stroke="#111" stroke-width="0.9" rx="0.6"/>
<rect x="426.5" y="243.8" width="2.2" height="2.6" fill="#fff" stroke="#111" stroke-width="0.9" rx="0.6"/>
<rect x="181.4" y="208.8" width="4.8" height="25.4" fill="#fff" stroke="#111" stroke-width="1.5" rx="1.5"/>
<line x1="183.8" y1="210" x2="183.8" y2="233" stroke="#555" stroke-width="1.0"/>
<rect x="302.2" y="208.8" width="4.8" height="25.4" fill="#fff" stroke="#111" stroke-width="1.5" rx="1.5"/>
<line x1="304.6" y1="210" x2="304.6" y2="233" stroke="#555" stroke-width="1.0"/>
<rect x="64.4" y="65.5" width="118.4" height="118" fill="#fff" stroke="none" stroke-width="0"/>
<line x1="68" y1="73" x2="68" y2="100" stroke="#111" stroke-width="1.0"/>
<rect x="66.2" y="74" width="3.6" height="4.6" fill="#fff" stroke="#111" stroke-width="1.1"/>
<rect x="66.2" y="80.5" width="3.6" height="4.6" fill="#fff" stroke="#111" stroke-width="1.1"/>
<rect x="66.2" y="87" width="3.6" height="4.6" fill="#fff" stroke="#111" stroke-width="1.1"/>
<rect x="66.2" y="93.5" width="3.6" height="4.6" fill="#fff" stroke="#111" stroke-width="1.1"/>
<line x1="68" y1="148.5" x2="68" y2="175.5" stroke="#111" stroke-width="1.0"/>
<rect x="66.2" y="149.5" width="3.6" height="4.6" fill="#fff" stroke="#111" stroke-width="1.1"/>
<rect x="66.2" y="156" width="3.6" height="4.6" fill="#fff" stroke="#111" stroke-width="1.1"/>
<rect x="66.2" y="162.5" width="3.6" height="4.6" fill="#fff" stroke="#111" stroke-width="1.1"/>
<rect x="66.2" y="169" width="3.6" height="4.6" fill="#fff" stroke="#111" stroke-width="1.1"/>
<line x1="179.2" y1="73" x2="179.2" y2="100" stroke="#111" stroke-width="1.0"/>
<rect x="177.4" y="74" width="3.6" height="4.6" fill="#fff" stroke="#111" stroke-width="1.1"/>
<rect x="177.4" y="80.5" width="3.6" height="4.6" fill="#fff" stroke="#111" stroke-width="1.1"/>
<rect x="177.4" y="87" width="3.6" height="4.6" fill="#fff" stroke="#111" stroke-width="1.1"/>
<rect x="177.4" y="93.5" width="3.6" height="4.6" fill="#fff" stroke="#111" stroke-width="1.1"/>
<line x1="179.2" y1="148.5" x2="179.2" y2="175.5" stroke="#111" stroke-width="1.0"/>
<rect x="177.4" y="149.5" width="3.6" height="4.6" fill="#fff" stroke="#111" stroke-width="1.1"/>
<rect x="177.4" y="156" width="3.6" height="4.6" fill="#fff" stroke="#111" stroke-width="1.1"/>
<rect x="177.4" y="162.5" width="3.6" height="4.6" fill="#fff" stroke="#111" stroke-width="1.1"/>
<rect x="177.4" y="169" width="3.6" height="4.6" fill="#fff" stroke="#111" stroke-width="1.1"/>
<rect x="70.7" y="71.8" width="105.8" height="105.4" fill="none" stroke="#111" stroke-width="1.8"/>
<circle cx="104.34" cy="68.3" r="4.6" fill="#fff" stroke="#111" stroke-width="1.5"/>
<circle cx="104.34" cy="180.7" r="4.6" fill="#fff" stroke="#111" stroke-width="1.5"/>
<circle cx="142.26" cy="68.3" r="4.6" fill="#fff" stroke="#111" stroke-width="1.5"/>
<circle cx="142.26" cy="180.7" r="4.6" fill="#fff" stroke="#111" stroke-width="1.5"/>
<circle cx="67.4" cy="104.94" r="4.6" fill="#fff" stroke="#111" stroke-width="1.5"/>
<circle cx="179.8" cy="104.94" r="4.6" fill="#fff" stroke="#111" stroke-width="1.5"/>
<circle cx="67.4" cy="143.1" r="4.6" fill="#fff" stroke="#111" stroke-width="1.5"/>
<circle cx="179.8" cy="143.1" r="4.6" fill="#fff" stroke="#111" stroke-width="1.5"/>
<rect x="64.55" y="65.65" width="118.1" height="117.7" fill="none" stroke="#111" stroke-width="2.3"/>
<circle cx="104.34" cy="68.3" r="1.9" fill="#fff" stroke="#111" stroke-width="1.3"/>
<circle cx="104.34" cy="180.7" r="1.9" fill="#fff" stroke="#111" stroke-width="1.3"/>
<circle cx="142.26" cy="68.3" r="1.9" fill="#fff" stroke="#111" stroke-width="1.3"/>
<circle cx="142.26" cy="180.7" r="1.9" fill="#fff" stroke="#111" stroke-width="1.3"/>
<circle cx="67.4" cy="104.94" r="1.9" fill="#fff" stroke="#111" stroke-width="1.3"/>
<circle cx="179.8" cy="104.94" r="1.9" fill="#fff" stroke="#111" stroke-width="1.3"/>
<circle cx="67.4" cy="143.1" r="1.9" fill="#fff" stroke="#111" stroke-width="1.3"/>
<circle cx="179.8" cy="143.1" r="1.9" fill="#fff" stroke="#111" stroke-width="1.3"/>
<circle cx="67.5" cy="68.5" r="2.6" fill="#fff" stroke="#111" stroke-width="1.5"/>
<circle cx="67.5" cy="180.5" r="2.6" fill="#fff" stroke="#111" stroke-width="1.5"/>
<circle cx="179.7" cy="68.5" r="2.6" fill="#fff" stroke="#111" stroke-width="1.5"/>
<circle cx="179.7" cy="180.5" r="2.6" fill="#fff" stroke="#111" stroke-width="1.5"/>
<rect x="184.8" y="65.5" width="118.8" height="118" fill="#fff" stroke="none" stroke-width="0"/>
<line x1="188.4" y1="73" x2="188.4" y2="100" stroke="#111" stroke-width="1.0"/>
<rect x="186.6" y="74" width="3.6" height="4.6" fill="#fff" stroke="#111" stroke-width="1.1"/>
<rect x="186.6" y="80.5" width="3.6" height="4.6" fill="#fff" stroke="#111" stroke-width="1.1"/>
<rect x="186.6" y="87" width="3.6" height="4.6" fill="#fff" stroke="#111" stroke-width="1.1"/>
<rect x="186.6" y="93.5" width="3.6" height="4.6" fill="#fff" stroke="#111" stroke-width="1.1"/>
<line x1="188.4" y1="148.5" x2="188.4" y2="175.5" stroke="#111" stroke-width="1.0"/>
<rect x="186.6" y="149.5" width="3.6" height="4.6" fill="#fff" stroke="#111" stroke-width="1.1"/>
<rect x="186.6" y="156" width="3.6" height="4.6" fill="#fff" stroke="#111" stroke-width="1.1"/>
<rect x="186.6" y="162.5" width="3.6" height="4.6" fill="#fff" stroke="#111" stroke-width="1.1"/>
<rect x="186.6" y="169" width="3.6" height="4.6" fill="#fff" stroke="#111" stroke-width="1.1"/>
<line x1="300" y1="73" x2="300" y2="100" stroke="#111" stroke-width="1.0"/>
<rect x="298.2" y="74" width="3.6" height="4.6" fill="#fff" stroke="#111" stroke-width="1.1"/>
<rect x="298.2" y="80.5" width="3.6" height="4.6" fill="#fff" stroke="#111" stroke-width="1.1"/>
<rect x="298.2" y="87" width="3.6" height="4.6" fill="#fff" stroke="#111" stroke-width="1.1"/>
<rect x="298.2" y="93.5" width="3.6" height="4.6" fill="#fff" stroke="#111" stroke-width="1.1"/>
<line x1="300" y1="148.5" x2="300" y2="175.5" stroke="#111" stroke-width="1.0"/>
<rect x="298.2" y="149.5" width="3.6" height="4.6" fill="#fff" stroke="#111" stroke-width="1.1"/>
<rect x="298.2" y="156" width="3.6" height="4.6" fill="#fff" stroke="#111" stroke-width="1.1"/>
<rect x="298.2" y="162.5" width="3.6" height="4.6" fill="#fff" stroke="#111" stroke-width="1.1"/>
<rect x="298.2" y="169" width="3.6" height="4.6" fill="#fff" stroke="#111" stroke-width="1.1"/>
<rect x="191.1" y="71.8" width="106.2" height="105.4" fill="none" stroke="#111" stroke-width="1.8"/>
<circle cx="224.87" cy="68.3" r="4.6" fill="#fff" stroke="#111" stroke-width="1.5"/>
<circle cx="224.87" cy="180.7" r="4.6" fill="#fff" stroke="#111" stroke-width="1.5"/>
<circle cx="262.92" cy="68.3" r="4.6" fill="#fff" stroke="#111" stroke-width="1.5"/>
<circle cx="262.92" cy="180.7" r="4.6" fill="#fff" stroke="#111" stroke-width="1.5"/>
<circle cx="187.8" cy="104.94" r="4.6" fill="#fff" stroke="#111" stroke-width="1.5"/>
<circle cx="300.6" cy="104.94" r="4.6" fill="#fff" stroke="#111" stroke-width="1.5"/>
<circle cx="187.8" cy="143.1" r="4.6" fill="#fff" stroke="#111" stroke-width="1.5"/>
<circle cx="300.6" cy="143.1" r="4.6" fill="#fff" stroke="#111" stroke-width="1.5"/>
<rect x="184.95" y="65.65" width="118.5" height="117.7" fill="none" stroke="#111" stroke-width="2.3"/>
<circle cx="224.87" cy="68.3" r="1.9" fill="#fff" stroke="#111" stroke-width="1.3"/>
<circle cx="224.87" cy="180.7" r="1.9" fill="#fff" stroke="#111" stroke-width="1.3"/>
<circle cx="262.92" cy="68.3" r="1.9" fill="#fff" stroke="#111" stroke-width="1.3"/>
<circle cx="262.92" cy="180.7" r="1.9" fill="#fff" stroke="#111" stroke-width="1.3"/>
<circle cx="187.8" cy="104.94" r="1.9" fill="#fff" stroke="#111" stroke-width="1.3"/>
<circle cx="300.6" cy="104.94" r="1.9" fill="#fff" stroke="#111" stroke-width="1.3"/>
<circle cx="187.8" cy="143.1" r="1.9" fill="#fff" stroke="#111" stroke-width="1.3"/>
<circle cx="300.6" cy="143.1" r="1.9" fill="#fff" stroke="#111" stroke-width="1.3"/>
<circle cx="187.9" cy="68.5" r="2.6" fill="#fff" stroke="#111" stroke-width="1.5"/>
<circle cx="187.9" cy="180.5" r="2.6" fill="#fff" stroke="#111" stroke-width="1.5"/>
<circle cx="300.5" cy="68.5" r="2.6" fill="#fff" stroke="#111" stroke-width="1.5"/>
<circle cx="300.5" cy="180.5" r="2.6" fill="#fff" stroke="#111" stroke-width="1.5"/>
<rect x="305.6" y="65.5" width="118.9" height="118" fill="#fff" stroke="none" stroke-width="0"/>
<line x1="309.2" y1="73" x2="309.2" y2="100" stroke="#111" stroke-width="1.0"/>
<rect x="307.4" y="74" width="3.6" height="4.6" fill="#fff" stroke="#111" stroke-width="1.1"/>
<rect x="307.4" y="80.5" width="3.6" height="4.6" fill="#fff" stroke="#111" stroke-width="1.1"/>
<rect x="307.4" y="87" width="3.6" height="4.6" fill="#fff" stroke="#111" stroke-width="1.1"/>
<rect x="307.4" y="93.5" width="3.6" height="4.6" fill="#fff" stroke="#111" stroke-width="1.1"/>
<line x1="309.2" y1="148.5" x2="309.2" y2="175.5" stroke="#111" stroke-width="1.0"/>
<rect x="307.4" y="149.5" width="3.6" height="4.6" fill="#fff" stroke="#111" stroke-width="1.1"/>
<rect x="307.4" y="156" width="3.6" height="4.6" fill="#fff" stroke="#111" stroke-width="1.1"/>
<rect x="307.4" y="162.5" width="3.6" height="4.6" fill="#fff" stroke="#111" stroke-width="1.1"/>
<rect x="307.4" y="169" width="3.6" height="4.6" fill="#fff" stroke="#111" stroke-width="1.1"/>
<line x1="420.9" y1="73" x2="420.9" y2="100" stroke="#111" stroke-width="1.0"/>
<rect x="419.1" y="74" width="3.6" height="4.6" fill="#fff" stroke="#111" stroke-width="1.1"/>
<rect x="419.1" y="80.5" width="3.6" height="4.6" fill="#fff" stroke="#111" stroke-width="1.1"/>
<rect x="419.1" y="87" width="3.6" height="4.6" fill="#fff" stroke="#111" stroke-width="1.1"/>
<rect x="419.1" y="93.5" width="3.6" height="4.6" fill="#fff" stroke="#111" stroke-width="1.1"/>
<line x1="420.9" y1="148.5" x2="420.9" y2="175.5" stroke="#111" stroke-width="1.0"/>
<rect x="419.1" y="149.5" width="3.6" height="4.6" fill="#fff" stroke="#111" stroke-width="1.1"/>
<rect x="419.1" y="156" width="3.6" height="4.6" fill="#fff" stroke="#111" stroke-width="1.1"/>
<rect x="419.1" y="162.5" width="3.6" height="4.6" fill="#fff" stroke="#111" stroke-width="1.1"/>
<rect x="419.1" y="169" width="3.6" height="4.6" fill="#fff" stroke="#111" stroke-width="1.1"/>
<rect x="311.9" y="71.8" width="106.3" height="105.4" fill="none" stroke="#111" stroke-width="1.8"/>
<circle cx="345.71" cy="68.3" r="4.6" fill="#fff" stroke="#111" stroke-width="1.5"/>
<circle cx="345.71" cy="180.7" r="4.6" fill="#fff" stroke="#111" stroke-width="1.5"/>
<circle cx="383.79" cy="68.3" r="4.6" fill="#fff" stroke="#111" stroke-width="1.5"/>
<circle cx="383.79" cy="180.7" r="4.6" fill="#fff" stroke="#111" stroke-width="1.5"/>
<circle cx="308.6" cy="104.94" r="4.6" fill="#fff" stroke="#111" stroke-width="1.5"/>
<circle cx="421.5" cy="104.94" r="4.6" fill="#fff" stroke="#111" stroke-width="1.5"/>
<circle cx="308.6" cy="143.1" r="4.6" fill="#fff" stroke="#111" stroke-width="1.5"/>
<circle cx="421.5" cy="143.1" r="4.6" fill="#fff" stroke="#111" stroke-width="1.5"/>
<rect x="305.75" y="65.65" width="118.6" height="117.7" fill="none" stroke="#111" stroke-width="2.3"/>
<circle cx="345.71" cy="68.3" r="1.9" fill="#fff" stroke="#111" stroke-width="1.3"/>
<circle cx="345.71" cy="180.7" r="1.9" fill="#fff" stroke="#111" stroke-width="1.3"/>
<circle cx="383.79" cy="68.3" r="1.9" fill="#fff" stroke="#111" stroke-width="1.3"/>
<circle cx="383.79" cy="180.7" r="1.9" fill="#fff" stroke="#111" stroke-width="1.3"/>
<circle cx="308.6" cy="104.94" r="1.9" fill="#fff" stroke="#111" stroke-width="1.3"/>
<circle cx="421.5" cy="104.94" r="1.9" fill="#fff" stroke="#111" stroke-width="1.3"/>
<circle cx="308.6" cy="143.1" r="1.9" fill="#fff" stroke="#111" stroke-width="1.3"/>
<circle cx="421.5" cy="143.1" r="1.9" fill="#fff" stroke="#111" stroke-width="1.3"/>
<circle cx="308.7" cy="68.5" r="2.6" fill="#fff" stroke="#111" stroke-width="1.5"/>
<circle cx="308.7" cy="180.5" r="2.6" fill="#fff" stroke="#111" stroke-width="1.5"/>
<circle cx="421.4" cy="68.5" r="2.6" fill="#fff" stroke="#111" stroke-width="1.5"/>
<circle cx="421.4" cy="180.5" r="2.6" fill="#fff" stroke="#111" stroke-width="1.5"/>
<rect x="73.4" y="74.3" width="4.2" height="5.8" fill="#333"/>
<text x="78" y="80.2" font-size="7.5" text-anchor="start" fill="#333">xd</text>
<rect x="193.8" y="74.3" width="4.2" height="5.8" fill="#333"/>
<text x="198.4" y="80.2" font-size="7.5" text-anchor="start" fill="#333">xd</text>
<rect x="314.6" y="74.3" width="4.2" height="5.8" fill="#333"/>
<text x="319.2" y="80.2" font-size="7.5" text-anchor="start" fill="#333">xd</text>
<use href="#sw" transform="translate(87.1 87.1) scale(0.93 0.953)"/>
<use href="#sw" transform="translate(112.2 87.1) scale(0.93 0.953)"/>
<use href="#sw" transform="translate(137.1 87.1) scale(0.93 0.953)"/>
<use href="#sw" transform="translate(87.1 133.1) scale(0.93 0.953)"/>
<use href="#sw" transform="translate(112.2 133.1) scale(0.93 0.953)"/>
<use href="#sw" transform="translate(137.1 133.1) scale(0.93 0.953)"/>
<use href="#sw" transform="translate(208.1 87.1) scale(0.93 0.953)"/>
<use href="#sw" transform="translate(233.1 87.1) scale(0.93 0.953)"/>
<use href="#sw" transform="translate(257.6 87.1) scale(0.93 0.953)"/>
<use href="#sw" transform="translate(208.1 133.1) scale(0.93 0.953)"/>
<use href="#sw" transform="translate(233.1 133.1) scale(0.93 0.953)"/>
<use href="#sw" transform="translate(257.6 133.1) scale(0.93 0.953)"/>
<use href="#sw" transform="translate(328.8 87.1) scale(0.93 0.953)"/>
<use href="#sw" transform="translate(353.8 87.1) scale(0.93 0.953)"/>
<use href="#sw" transform="translate(378.1 87.1) scale(0.93 0.953)"/>
<use href="#sw" transform="translate(328.8 133.1) scale(0.93 0.953)"/>
<use href="#sw" transform="translate(353.8 133.1) scale(0.93 0.953)"/>
<use href="#sw" transform="translate(378.1 133.1) scale(0.93 0.953)"/>
<use href="#so" x="73.2" y="189.3" />
<use href="#so" x="90.35" y="189.3" />
<use href="#so" x="107.5" y="189.3" />
<use href="#so" x="124.65" y="189.3" />
<use href="#so" x="141.8" y="189.3" />
<use href="#so" x="158.95" y="189.3" />
<use href="#so" x="193" y="189.3" />
<use href="#so" x="210.15" y="189.3" />
<use href="#so" x="227.3" y="189.3" />
<use href="#so" x="244.45" y="189.3" />
<use href="#so" x="261.6" y="189.3" />
<use href="#so" x="278.75" y="189.3" />
<use href="#so" x="314.7" y="189.3" />
<use href="#so" x="331.85" y="189.3" />
<use href="#so" x="349" y="189.3" />
<use href="#so" x="366.15" y="189.3" />
<use href="#so" x="383.3" y="189.3" />
<use href="#so" x="400.45" y="189.3" />
<use href="#gl" x="81" y="255.2" />
<use href="#gl" x="103.6" y="255.2" />
<use href="#gl" x="127.5" y="255.2" />
<use href="#gl" x="149.7" y="255.2" />
<use href="#gl" x="207.8" y="255.2" />
<use href="#gl" x="264" y="255.2" />
<use href="#gl" x="322.3" y="255.2" />
<use href="#gl" x="344.5" y="255.2" />
<use href="#gl" x="367.7" y="255.2" />
<use href="#gl" x="390.6" y="255.2" />
<use href="#glbig" x="233.4" y="255.2" />
<rect x="226.6" y="232.9" width="35.2" height="17" fill="#fff" stroke="#111" stroke-width="1.6" rx="1.5"/>
</g>
<g transform="translate(613 -6)">
<line x1="53.75" y1="27" x2="53.75" y2="65.5" stroke="#333" stroke-width="0.9"/>
<line x1="434.1" y1="27" x2="434.1" y2="65.5" stroke="#333" stroke-width="0.9"/>
<line x1="53.75" y1="31.5" x2="434.1" y2="31.5" stroke="#333" stroke-width="1.0"/>
<polygon points="53.75,31.5 65.25,29.5 65.25,33.5" fill="#111"/>
<polygon points="434.1,31.5 422.6,29.5 422.6,33.5" fill="#111"/>
<text x="226.61" y="28.75" font-size="12.5" textLength="25.88" lengthAdjust="spacingAndGlyphs" fill="#1a1a1a">1000</text>
<line x1="63.3" y1="42.6" x2="63.3" y2="64" stroke="#333" stroke-width="0.9"/>
<line x1="425.1" y1="42.6" x2="425.1" y2="64" stroke="#333" stroke-width="0.9"/>
<line x1="63.3" y1="47.2" x2="425.1" y2="47.2" stroke="#333" stroke-width="1.0"/>
<polygon points="63.3,47.2 74.8,45.2 74.8,49.2" fill="#111"/>
<polygon points="425.1,47.2 413.6,45.2 413.6,49.2" fill="#111"/>
<text x="232.06" y="44.5" font-size="12.5" textLength="19.62" lengthAdjust="spacingAndGlyphs" fill="#1a1a1a">952</text>
<line x1="451.1" y1="28.4" x2="451.1" y2="92.7" stroke="#333" stroke-width="0.9"/>
<polygon points="451.1,66 449.1,54.5 453.1,54.5" fill="#111"/>
<polygon points="451.1,70.8 449.1,82.3 453.1,82.3" fill="#111"/>
<line x1="438.4" y1="66" x2="455.6" y2="66" stroke="#333" stroke-width="0.9"/>
<line x1="438.4" y1="70.7" x2="455.6" y2="70.7" stroke="#333" stroke-width="0.9"/>
<text x="449.5" y="46.44" font-size="12.5" textLength="13.38" lengthAdjust="spacingAndGlyphs" fill="#1a1a1a" transform="rotate(-90 449.5 46.44)">13</text>
<line x1="429.2" y1="70" x2="429.2" y2="94.4" stroke="#333" stroke-width="0.9"/>
<line x1="438.7" y1="70" x2="438.7" y2="94.4" stroke="#333" stroke-width="0.9"/>
<line x1="407.5" y1="90.4" x2="476.5" y2="90.4" stroke="#333" stroke-width="0.9"/>
<polygon points="439.3,90.4 450.8,88.4 450.8,92.4" fill="#111"/>
<text x="460.98" y="86.9" font-size="12" textLength="13.84" lengthAdjust="spacingAndGlyphs" fill="#1a1a1a">25</text>
<line x1="12" y1="64.2" x2="63" y2="64.2" stroke="#333" stroke-width="0.9"/>
<line x1="27" y1="67.7" x2="63" y2="67.7" stroke="#333" stroke-width="0.9"/>
<line x1="15" y1="257.5" x2="45" y2="257.5" stroke="#333" stroke-width="0.9"/>
<line x1="30" y1="253.3" x2="60" y2="253.3" stroke="#333" stroke-width="0.9"/>
<line x1="19.3" y1="64.2" x2="19.3" y2="257.5" stroke="#333" stroke-width="1.0"/>
<polygon points="19.3,64.2 17.3,75.7 21.3,75.7" fill="#111"/>
<polygon points="19.3,257.5 17.3,246 21.3,246" fill="#111"/>
<line x1="35" y1="67.7" x2="35" y2="253.3" stroke="#333" stroke-width="1.0"/>
<polygon points="35,67.7 33,79.2 37,79.2" fill="#111"/>
<polygon points="35,253.3 33,241.8 37,241.8" fill="#111"/>
<text x="18.1" y="170.46" font-size="13.21" textLength="19.93" lengthAdjust="spacingAndGlyphs" fill="#1a1a1a" transform="rotate(-90 18.1 170.46)">508</text>
<text x="36.1" y="170.43" font-size="12.14" textLength="19.85" lengthAdjust="spacingAndGlyphs" fill="#1a1a1a" transform="rotate(-90 36.1 170.43)">487</text>
<line x1="500.3" y1="42" x2="500.3" y2="59" stroke="#333" stroke-width="0.9"/>
<line x1="563" y1="42" x2="563" y2="71" stroke="#333" stroke-width="0.9"/>
<line x1="500.3" y1="47" x2="563" y2="47" stroke="#333" stroke-width="1.0"/>
<polygon points="500.3,47 511.8,45 511.8,49" fill="#111"/>
<polygon points="563,47 551.5,45 551.5,49" fill="#111"/>
<text x="519.55" y="45" font-size="12.86" textLength="19.65" lengthAdjust="spacingAndGlyphs" fill="#1a1a1a">165</text>
</g>
<g transform="translate(613 -6)">
<rect x="499.2" y="63.4" width="3.2" height="135" fill="#333" stroke="#111" stroke-width="1.0"/>
<line x1="500.2" y1="198" x2="500.2" y2="263.4" stroke="#111" stroke-width="1.4"/>
<path d="M499.4,60.5 Q498.7,59.8 497.2,59.8 H492.2 M499.4,77 Q498.7,77.7 497.2,77.7 H492.2" fill="none" stroke="#111" stroke-width="1.5" />
<line x1="498.6" y1="60.2" x2="498.6" y2="77.3" stroke="#111" stroke-width="1.3"/>
<circle cx="492.2" cy="59.8" r="0.9" fill="#111"/>
<circle cx="492.2" cy="77.7" r="0.9" fill="#111"/>
<rect x="494.7" y="66.41" width="3.8" height="5.07" fill="#333" stroke="#111" stroke-width="0.8" rx="0.8"/>
<path d="M499.4,245.1 Q498.7,244.4 497.2,244.4 H492.2 M499.4,261.9 Q498.7,262.6 497.2,262.6 H492.2" fill="none" stroke="#111" stroke-width="1.5" />
<line x1="498.6" y1="244.8" x2="498.6" y2="262.2" stroke="#111" stroke-width="1.3"/>
<circle cx="492.2" cy="244.4" r="0.9" fill="#111"/>
<circle cx="492.2" cy="262.6" r="0.9" fill="#111"/>
<rect x="494.7" y="251.12" width="3.8" height="5.15" fill="#333" stroke="#111" stroke-width="0.8" rx="0.8"/>
<rect x="502.6" y="63.9" width="3.6" height="11.8" fill="#fff" stroke="#111" stroke-width="1.1"/>
<rect x="502.6" y="75.7" width="3.6" height="6.8" fill="#fff" stroke="#111" stroke-width="1.1"/>
<line x1="506.3" y1="72" x2="540.2" y2="72" stroke="#111" stroke-width="1.4"/>
<line x1="502.4" y1="184.4" x2="547.7" y2="184.4" stroke="#111" stroke-width="1.5"/>
<rect x="540.2" y="63.5" width="8.8" height="121" fill="#fff" stroke="#111" stroke-width="1.3"/>
<line x1="543.3" y1="63.5" x2="543.3" y2="184.4" stroke="#111" stroke-width="1.0"/>
<line x1="546.4" y1="63.5" x2="546.4" y2="184.4" stroke="#111" stroke-width="1.0"/>
<rect x="549.3" y="65.2" width="3.6" height="5.8" fill="#fff" stroke="#111" stroke-width="1.2" rx="1.6"/>
<rect x="536.2" y="76.8" width="4" height="7.4" fill="#fff" stroke="#111" stroke-width="1.3" rx="1.8"/>
<line x1="538.2" y1="77.8" x2="538.2" y2="83.2" stroke="#444" stroke-width="1.0"/>
<rect x="536.2" y="88.3" width="4" height="7.4" fill="#fff" stroke="#111" stroke-width="1.3" rx="1.8"/>
<line x1="538.2" y1="89.3" x2="538.2" y2="94.7" stroke="#444" stroke-width="1.0"/>
<rect x="536.2" y="152.2" width="4" height="7.4" fill="#fff" stroke="#111" stroke-width="1.3" rx="1.8"/>
<line x1="538.2" y1="153.2" x2="538.2" y2="158.6" stroke="#444" stroke-width="1.0"/>
<rect x="536.2" y="163.5" width="4" height="7.4" fill="#fff" stroke="#111" stroke-width="1.3" rx="1.8"/>
<line x1="538.2" y1="164.5" x2="538.2" y2="169.9" stroke="#444" stroke-width="1.0"/>
<path d="M549,70.7 H560.8 Q562.8,70.7 562.8,72.7 V178.5 Q562.8,180.5 560.8,180.5 H549" fill="#fff" stroke="#111" stroke-width="1.5" />
<rect x="549" y="100.8" width="13.8" height="8.8" fill="#fff" stroke="#111" stroke-width="1.2"/>
<ellipse cx="551.8" cy="105.2" rx="1.5" ry="2.6" fill="#fff" stroke="#111" stroke-width="1"/>
<rect x="549" y="139" width="13.8" height="8.8" fill="#fff" stroke="#111" stroke-width="1.2"/>
<ellipse cx="551.8" cy="143.4" rx="1.5" ry="2.6" fill="#fff" stroke="#111" stroke-width="1"/>
<rect x="562.8" y="87.6" width="3.6" height="27.6" rx="1.2" fill="#444" stroke="#111" stroke-width="1"/>
<path d="M566.4,91.1 H577.8 Q580.3,91.1 580.3,93.6 V109.2 H574.8 V112.7 H566.4" fill="#fff" stroke="#111" stroke-width="1.3" />
<circle cx="576.4" cy="106.7" r="1.5" fill="none" stroke="#111" stroke-width="0.9"/>
<rect x="574" y="108.7" width="4.6" height="3" fill="#fff" stroke="#111" stroke-width="0.9"/>
<rect x="562.8" y="133.4" width="3.6" height="27" rx="1.2" fill="#444" stroke="#111" stroke-width="1"/>
<path d="M566.4,136.9 H577.8 Q580.3,136.9 580.3,139.4 V154.4 H574.8 V157.9 H566.4" fill="#fff" stroke="#111" stroke-width="1.3" />
<circle cx="576.4" cy="151.9" r="1.5" fill="none" stroke="#111" stroke-width="0.9"/>
<rect x="574" y="153.9" width="4.6" height="3" fill="#fff" stroke="#111" stroke-width="0.9"/>
<line x1="500.2" y1="184.4" x2="500.2" y2="256.5" stroke="#111" stroke-width="1.3"/>
<line x1="500.2" y1="256.5" x2="547.7" y2="256.5" stroke="#111" stroke-width="1.5"/>
<line x1="542.7" y1="184.4" x2="542.7" y2="256.5" stroke="#111" stroke-width="1.1"/>
<line x1="547.7" y1="184.4" x2="547.7" y2="256.5" stroke="#111" stroke-width="1.1"/>
<rect x="512" y="185" width="25" height="5" fill="#fff" stroke="#111" stroke-width="1.2" rx="1"/>
<rect x="512" y="251.5" width="25" height="5" fill="#fff" stroke="#111" stroke-width="1.2" rx="1"/>
<rect x="536.4" y="193.8" width="11.8" height="13.2" fill="#fff" stroke="#111" stroke-width="1.3" rx="1.2"/>
<rect x="536.4" y="193.8" width="3" height="3" fill="#111" stroke="none" stroke-width="0" rx="1.2"/>
<rect x="545.2" y="193.8" width="3" height="3" fill="#111" stroke="none" stroke-width="0" rx="1.2"/>
<rect x="536.4" y="204" width="3" height="3" fill="#111" stroke="none" stroke-width="0" rx="1.2"/>
<rect x="545.2" y="204" width="3" height="3" fill="#111" stroke="none" stroke-width="0" rx="1.2"/>
<line x1="542.3" y1="193.8" x2="542.3" y2="207" stroke="#111" stroke-width="1.0"/>
<rect x="538" y="198.8" width="2.6" height="3.2" fill="#fff" stroke="#111" stroke-width="0.9"/>
<rect x="544" y="198.8" width="2.6" height="3.2" fill="#fff" stroke="#111" stroke-width="0.9"/>
<rect x="541.1" y="196.7" width="2.4" height="2" fill="#444" stroke="none" stroke-width="0"/>
<rect x="541.1" y="202.1" width="2.4" height="2" fill="#444" stroke="none" stroke-width="0"/>
<rect x="536.4" y="234.6" width="11.8" height="13.2" fill="#fff" stroke="#111" stroke-width="1.3" rx="1.2"/>
<rect x="536.4" y="234.6" width="3" height="3" fill="#111" stroke="none" stroke-width="0" rx="1.2"/>
<rect x="545.2" y="234.6" width="3" height="3" fill="#111" stroke="none" stroke-width="0" rx="1.2"/>
<rect x="536.4" y="244.8" width="3" height="3" fill="#111" stroke="none" stroke-width="0" rx="1.2"/>
<rect x="545.2" y="244.8" width="3" height="3" fill="#111" stroke="none" stroke-width="0" rx="1.2"/>
<line x1="542.3" y1="234.6" x2="542.3" y2="247.8" stroke="#111" stroke-width="1.0"/>
<rect x="538" y="239.6" width="2.6" height="3.2" fill="#fff" stroke="#111" stroke-width="0.9"/>
<rect x="544" y="239.6" width="2.6" height="3.2" fill="#fff" stroke="#111" stroke-width="0.9"/>
<rect x="541.1" y="237.5" width="2.4" height="2" fill="#444" stroke="none" stroke-width="0"/>
<rect x="541.1" y="242.9" width="2.4" height="2" fill="#444" stroke="none" stroke-width="0"/>
<path d="M549,194.5 H553.5 Q558.4,194.5 558.4,202 Q558.4,209.5 553.5,209.5 H549 Z" fill="#fff" stroke="#111" stroke-width="1.3" />
<rect x="549" y="177.5" width="3.8" height="5.5" rx="1.8" fill="#fff" stroke="#111" stroke-width="1.1"/>
<rect x="549" y="186.5" width="3.8" height="5.5" rx="1.8" fill="#fff" stroke="#111" stroke-width="1.1"/>
<rect x="549" y="251" width="3.8" height="5.5" rx="1.8" fill="#fff" stroke="#111" stroke-width="1.1"/>
<path d="M516,274.4 H528.3 V281 Q528.3,286.7 522.2,286.7 Q516,286.7 516,281 Z" fill="#222" stroke="#111" stroke-width="1.2" />
<rect x="521" y="276" width="2.4" height="10" fill="#fff" stroke="none" stroke-width="0"/>
<rect x="517.5" y="276.2" width="9.5" height="1.6" fill="#fff" stroke="none" stroke-width="0"/>
<path d="M506.7,257.5 V269.8 H520.5 V257.5" fill="#fff" stroke="#111" stroke-width="1.2" />
<path d="M506.2,257.6 V261.5 Q506.2,263.5 508,263.5 Q509.8,263.5 509.8,261.5 V257.6" fill="#fff" stroke="#111" stroke-width="1.1" />
<path d="M516.7,257.6 V261.5 Q516.7,263.5 518.5,263.5 Q520.3,263.5 520.3,261.5 V257.6" fill="#fff" stroke="#111" stroke-width="1.1" />
<rect x="508" y="270.2" width="11" height="2.6" fill="#fff" stroke="#111" stroke-width="1.1"/>
<rect x="507.4" y="273.2" width="12.4" height="7.2" fill="#fff" stroke="#111" stroke-width="1.2" rx="1"/>
<rect x="507.4" y="273.6" width="3" height="3.2" fill="#222" stroke="none" stroke-width="0"/>
<rect x="516.8" y="273.6" width="3" height="3.2" fill="#222" stroke="none" stroke-width="0"/>
<rect x="512.4" y="273.6" width="2.2" height="6.5" fill="#555" stroke="none" stroke-width="0"/>
<line x1="507.4" y1="277.2" x2="519.8" y2="277.2" stroke="#111" stroke-width="1.0"/>
<path d="M526,257.5 V269.8 H539.8 V257.5" fill="#fff" stroke="#111" stroke-width="1.2" />
<path d="M525.5,257.6 V261.5 Q525.5,263.5 527.3,263.5 Q529.1,263.5 529.1,261.5 V257.6" fill="#fff" stroke="#111" stroke-width="1.1" />
<path d="M536,257.6 V261.5 Q536,263.5 537.8,263.5 Q539.6,263.5 539.6,261.5 V257.6" fill="#fff" stroke="#111" stroke-width="1.1" />
<rect x="527.3" y="270.2" width="11" height="2.6" fill="#fff" stroke="#111" stroke-width="1.1"/>
<rect x="526.7" y="273.2" width="12.4" height="7.2" fill="#fff" stroke="#111" stroke-width="1.2" rx="1"/>
<rect x="526.7" y="273.6" width="3" height="3.2" fill="#222" stroke="none" stroke-width="0"/>
<rect x="536.1" y="273.6" width="3" height="3.2" fill="#222" stroke="none" stroke-width="0"/>
<rect x="531.7" y="273.6" width="2.2" height="6.5" fill="#555" stroke="none" stroke-width="0"/>
<line x1="526.7" y1="277.2" x2="539.1" y2="277.2" stroke="#111" stroke-width="1.0"/>
</g>
<path d="M157.5,514.5 H137.5 V494 H359.3 V514.5 H339" fill="none" stroke="#111" stroke-width="1.3" />
<ellipse cx="148.2" cy="503.6" rx="5.2" ry="2.9" fill="none" stroke="#111" stroke-width="1.3"/>
<ellipse cx="349.2" cy="503.6" rx="5.2" ry="2.9" fill="none" stroke="#111" stroke-width="1.3"/>
<path d="M157.5,867 H137.5 V887.6 H359.5 V867 H339" fill="none" stroke="#111" stroke-width="1.3" />
<line x1="137.5" y1="880.5" x2="359.5" y2="880.5" stroke="#111" stroke-width="1.3"/>
<ellipse cx="148.2" cy="877" rx="5.2" ry="3.2" fill="none" stroke="#111" stroke-width="1.3"/>
<ellipse cx="349.2" cy="877" rx="5.2" ry="3.2" fill="none" stroke="#111" stroke-width="1.3"/>
<use href="#glu" transform="translate(193 475.5) scale(1.02)"/>
<use href="#glu" transform="translate(216.9 475.5) scale(1.02)"/>
<use href="#glu" transform="translate(240.8 475.5) scale(1.02)"/>
<use href="#glu" transform="translate(264.8 475.5) scale(1.02)"/>
<use href="#glu" transform="translate(288.8 475.5) scale(1.02)"/>
<rect x="158.4" y="500" width="179.8" height="124.5" fill="#fff" stroke="#111" stroke-width="1.5"/>
<line x1="161.8" y1="503" x2="161.8" y2="621.5" stroke="#111" stroke-width="1.0"/>
<line x1="334.8" y1="503" x2="334.8" y2="621.5" stroke="#111" stroke-width="1.0"/>
<circle cx="162" cy="503.6" r="3" fill="#2a2a2a" stroke="#111" stroke-width="0.8"/>
<circle cx="162" cy="620.9" r="3" fill="#2a2a2a" stroke="#111" stroke-width="0.8"/>
<circle cx="334.6" cy="503.6" r="3" fill="#2a2a2a" stroke="#111" stroke-width="0.8"/>
<circle cx="334.6" cy="620.9" r="3" fill="#2a2a2a" stroke="#111" stroke-width="0.8"/>
<rect x="165.6" y="501" width="14" height="2.6" fill="#222" stroke="none" stroke-width="0"/>
<rect x="165.6" y="620.9" width="14" height="2.6" fill="#222" stroke="none" stroke-width="0"/>
<rect x="317" y="501" width="14" height="2.6" fill="#222" stroke="none" stroke-width="0"/>
<rect x="317" y="620.9" width="14" height="2.6" fill="#222" stroke="none" stroke-width="0"/>
<path d="M183.6,500.5 L186.6,503 H310 L313,500.5" fill="none" stroke="#111" stroke-width="1.1" />
<path d="M183.6,624 L186.6,621.5 H310 L313,624" fill="none" stroke="#111" stroke-width="1.1" />
<rect x="334.4" y="505.5" width="3.6" height="17" fill="#222" stroke="none" stroke-width="0"/>
<path d="M334.6,522.5 L332.6,525.5 V528.5" fill="none" stroke="#111" stroke-width="1.0" />
<rect x="153.4" y="506.5" width="8.4" height="15" fill="#fff" stroke="#111" stroke-width="1.1" rx="1.2"/>
<rect x="158" y="507" width="3.8" height="14" fill="#222" stroke="none" stroke-width="0"/>
<rect x="154.2" y="507.5" width="2.8" height="3.6" fill="#fff" stroke="#111" stroke-width="1.0" rx="0.8"/>
<rect x="154.2" y="512.1" width="2.8" height="3.6" fill="#fff" stroke="#111" stroke-width="1.0" rx="0.8"/>
<rect x="154.2" y="516.7" width="2.8" height="3.6" fill="#fff" stroke="#111" stroke-width="1.0" rx="0.8"/>
<rect x="334.4" y="602" width="3.6" height="17" fill="#222" stroke="none" stroke-width="0"/>
<path d="M334.6,619 L332.6,622 V625" fill="none" stroke="#111" stroke-width="1.0" />
<rect x="153.4" y="603" width="8.4" height="15" fill="#fff" stroke="#111" stroke-width="1.1" rx="1.2"/>
<rect x="158" y="603.5" width="3.8" height="14" fill="#222" stroke="none" stroke-width="0"/>
<rect x="154.2" y="604" width="2.8" height="3.6" fill="#fff" stroke="#111" stroke-width="1.0" rx="0.8"/>
<rect x="154.2" y="608.6" width="2.8" height="3.6" fill="#fff" stroke="#111" stroke-width="1.0" rx="0.8"/>
<rect x="154.2" y="613.2" width="2.8" height="3.6" fill="#fff" stroke="#111" stroke-width="1.0" rx="0.8"/>
<use href="#so" transform="translate(192.6 569) scale(1.05 1.0)"/>
<use href="#so" transform="translate(216.65 569) scale(1.05 1.0)"/>
<use href="#so" transform="translate(240.7 569) scale(1.05 1.0)"/>
<use href="#so" transform="translate(264.75 569) scale(1.05 1.0)"/>
<use href="#so" transform="translate(288.8 569) scale(1.05 1.0)"/>
<use href="#so" transform="translate(192.6 593) scale(1.05 1.0)"/>
<use href="#so" transform="translate(216.65 593) scale(1.05 1.0)"/>
<use href="#so" transform="translate(240.7 593) scale(1.05 1.0)"/>
<use href="#so" transform="translate(264.75 593) scale(1.05 1.0)"/>
<use href="#so" transform="translate(288.8 593) scale(1.05 1.0)"/>
<text x="172.3" y="612.5" font-size="10.5" text-anchor="middle" fill="#222" transform="rotate(-118 172.3 612.5)">Exe</text>
<rect x="158.4" y="757.5" width="179.8" height="124.8" fill="#fff" stroke="#111" stroke-width="1.5"/>
<line x1="161.8" y1="760.5" x2="161.8" y2="879.3" stroke="#111" stroke-width="1.0"/>
<line x1="334.8" y1="760.5" x2="334.8" y2="879.3" stroke="#111" stroke-width="1.0"/>
<circle cx="162" cy="761.1" r="3" fill="#2a2a2a" stroke="#111" stroke-width="0.8"/>
<circle cx="162" cy="878.7" r="3" fill="#2a2a2a" stroke="#111" stroke-width="0.8"/>
<circle cx="334.6" cy="761.1" r="3" fill="#2a2a2a" stroke="#111" stroke-width="0.8"/>
<circle cx="334.6" cy="878.7" r="3" fill="#2a2a2a" stroke="#111" stroke-width="0.8"/>
<rect x="165.6" y="758.5" width="14" height="2.6" fill="#222" stroke="none" stroke-width="0"/>
<rect x="165.6" y="878.7" width="14" height="2.6" fill="#222" stroke="none" stroke-width="0"/>
<rect x="317" y="758.5" width="14" height="2.6" fill="#222" stroke="none" stroke-width="0"/>
<rect x="317" y="878.7" width="14" height="2.6" fill="#222" stroke="none" stroke-width="0"/>
<path d="M183.6,758 L186.6,760.5 H310 L313,758" fill="none" stroke="#111" stroke-width="1.1" />
<path d="M183.6,881.8 L186.6,879.3 H310 L313,881.8" fill="none" stroke="#111" stroke-width="1.1" />
<rect x="334.4" y="763" width="3.6" height="17" fill="#222" stroke="none" stroke-width="0"/>
<path d="M334.6,780 L332.6,783 V786" fill="none" stroke="#111" stroke-width="1.0" />
<rect x="153.4" y="764" width="8.4" height="15" fill="#fff" stroke="#111" stroke-width="1.1" rx="1.2"/>
<rect x="158" y="764.5" width="3.8" height="14" fill="#222" stroke="none" stroke-width="0"/>
<rect x="154.2" y="765" width="2.8" height="3.6" fill="#fff" stroke="#111" stroke-width="1.0" rx="0.8"/>
<rect x="154.2" y="769.6" width="2.8" height="3.6" fill="#fff" stroke="#111" stroke-width="1.0" rx="0.8"/>
<rect x="154.2" y="774.2" width="2.8" height="3.6" fill="#fff" stroke="#111" stroke-width="1.0" rx="0.8"/>
<rect x="334.4" y="859.8" width="3.6" height="17" fill="#222" stroke="none" stroke-width="0"/>
<path d="M334.6,876.8 L332.6,879.8 V882.8" fill="none" stroke="#111" stroke-width="1.0" />
<rect x="153.4" y="860.8" width="8.4" height="15" fill="#fff" stroke="#111" stroke-width="1.1" rx="1.2"/>
<rect x="158" y="861.3" width="3.8" height="14" fill="#222" stroke="none" stroke-width="0"/>
<rect x="154.2" y="861.8" width="2.8" height="3.6" fill="#fff" stroke="#111" stroke-width="1.0" rx="0.8"/>
<rect x="154.2" y="866.4" width="2.8" height="3.6" fill="#fff" stroke="#111" stroke-width="1.0" rx="0.8"/>
<rect x="154.2" y="871" width="2.8" height="3.6" fill="#fff" stroke="#111" stroke-width="1.0" rx="0.8"/>
<rect x="229.9" y="855.7" width="37.2" height="19.5" fill="#fff" stroke="#111" stroke-width="1.6" rx="1.5"/>
<text x="171.8" y="866.5" font-size="10.5" text-anchor="middle" fill="#222" transform="rotate(-118 171.8 866.5)">Exe</text>
<rect x="158.7" y="625" width="179.2" height="131.8" fill="#fff" stroke="#111" stroke-width="2.6" rx="9"/>
<rect x="160.7" y="626.8" width="175.2" height="128.2" fill="none" stroke="#111" stroke-width="0.9" rx="7"/>
<line x1="167.4" y1="629.42" x2="329.2" y2="629.42" stroke="#111" stroke-width="0.9"/>
<rect x="186.4" y="629.42" width="34.6" height="7.57" fill="#fff" stroke="#111" stroke-width="0.9"/>
<line x1="190.4" y1="629.93" x2="190.4" y2="636.5" stroke="#111" stroke-width="0.9"/>
<line x1="193.4" y1="629.93" x2="193.4" y2="636.5" stroke="#111" stroke-width="0.9"/>
<line x1="196.4" y1="629.93" x2="196.4" y2="636.5" stroke="#111" stroke-width="0.9"/>
<rect x="231" y="629.42" width="34.6" height="7.57" fill="#fff" stroke="#111" stroke-width="0.9"/>
<line x1="235" y1="629.93" x2="235" y2="636.5" stroke="#111" stroke-width="0.9"/>
<line x1="238" y1="629.93" x2="238" y2="636.5" stroke="#111" stroke-width="0.9"/>
<line x1="241" y1="629.93" x2="241" y2="636.5" stroke="#111" stroke-width="0.9"/>
<rect x="275.6" y="629.42" width="34.6" height="7.57" fill="#fff" stroke="#111" stroke-width="0.9"/>
<line x1="279.6" y1="629.93" x2="279.6" y2="636.5" stroke="#111" stroke-width="0.9"/>
<line x1="282.6" y1="629.93" x2="282.6" y2="636.5" stroke="#111" stroke-width="0.9"/>
<line x1="285.6" y1="629.93" x2="285.6" y2="636.5" stroke="#111" stroke-width="0.9"/>
<line x1="167.4" y1="746.32" x2="329.2" y2="746.32" stroke="#111" stroke-width="0.9"/>
<rect x="186.4" y="746.32" width="34.6" height="7.58" fill="#fff" stroke="#111" stroke-width="0.9"/>
<line x1="190.4" y1="746.82" x2="190.4" y2="753.4" stroke="#111" stroke-width="0.9"/>
<line x1="193.4" y1="746.82" x2="193.4" y2="753.4" stroke="#111" stroke-width="0.9"/>
<line x1="196.4" y1="746.82" x2="196.4" y2="753.4" stroke="#111" stroke-width="0.9"/>
<rect x="231" y="746.32" width="34.6" height="7.58" fill="#fff" stroke="#111" stroke-width="0.9"/>
<line x1="235" y1="746.82" x2="235" y2="753.4" stroke="#111" stroke-width="0.9"/>
<line x1="238" y1="746.82" x2="238" y2="753.4" stroke="#111" stroke-width="0.9"/>
<line x1="241" y1="746.82" x2="241" y2="753.4" stroke="#111" stroke-width="0.9"/>
<rect x="275.6" y="746.32" width="34.6" height="7.58" fill="#fff" stroke="#111" stroke-width="0.9"/>
<line x1="279.6" y1="746.82" x2="279.6" y2="753.4" stroke="#111" stroke-width="0.9"/>
<line x1="282.6" y1="746.82" x2="282.6" y2="753.4" stroke="#111" stroke-width="0.9"/>
<line x1="285.6" y1="746.82" x2="285.6" y2="753.4" stroke="#111" stroke-width="0.9"/>
<rect x="162.5" y="655.2" width="3.6" height="30.7" fill="#fff" stroke="#111" stroke-width="0.9"/>
<line x1="162.14" y1="659.2" x2="166.46" y2="659.2" stroke="#111" stroke-width="0.9"/>
<line x1="162.14" y1="662.4" x2="166.46" y2="662.4" stroke="#111" stroke-width="0.9"/>
<line x1="162.14" y1="665.6" x2="166.46" y2="665.6" stroke="#111" stroke-width="0.9"/>
<rect x="162.5" y="695.9" width="3.6" height="30.7" fill="#fff" stroke="#111" stroke-width="0.9"/>
<line x1="162.14" y1="699.9" x2="166.46" y2="699.9" stroke="#111" stroke-width="0.9"/>
<line x1="162.14" y1="703.1" x2="166.46" y2="703.1" stroke="#111" stroke-width="0.9"/>
<line x1="162.14" y1="706.3" x2="166.46" y2="706.3" stroke="#111" stroke-width="0.9"/>
<rect x="330.5" y="655.2" width="3.6" height="30.7" fill="#fff" stroke="#111" stroke-width="0.9"/>
<line x1="330.14" y1="659.2" x2="334.46" y2="659.2" stroke="#111" stroke-width="0.9"/>
<line x1="330.14" y1="662.4" x2="334.46" y2="662.4" stroke="#111" stroke-width="0.9"/>
<line x1="330.14" y1="665.6" x2="334.46" y2="665.6" stroke="#111" stroke-width="0.9"/>
<rect x="330.5" y="695.9" width="3.6" height="30.7" fill="#fff" stroke="#111" stroke-width="0.9"/>
<line x1="330.14" y1="699.9" x2="334.46" y2="699.9" stroke="#111" stroke-width="0.9"/>
<line x1="330.14" y1="703.1" x2="334.46" y2="703.1" stroke="#111" stroke-width="0.9"/>
<line x1="330.14" y1="706.3" x2="334.46" y2="706.3" stroke="#111" stroke-width="0.9"/>
<rect x="168.4" y="638" width="159.8" height="105.8" fill="none" stroke="#111" stroke-width="2.3" rx="4"/>
<rect x="170.6" y="640.2" width="155.4" height="101.4" fill="none" stroke="#111" stroke-width="0.9" rx="3"/>
<line x1="160.9" y1="632.7" x2="169.4" y2="640.5" stroke="#111" stroke-width="1.0"/>
<line x1="165.9" y1="627.2" x2="170.9" y2="639" stroke="#111" stroke-width="1.0"/>
<line x1="335.7" y1="632.7" x2="327.2" y2="640.5" stroke="#111" stroke-width="1.0"/>
<line x1="330.7" y1="627.2" x2="325.7" y2="639" stroke="#111" stroke-width="1.0"/>
<line x1="160.9" y1="749.1" x2="169.4" y2="741.3" stroke="#111" stroke-width="1.0"/>
<line x1="165.9" y1="754.6" x2="170.9" y2="742.8" stroke="#111" stroke-width="1.0"/>
<line x1="335.7" y1="749.1" x2="327.2" y2="741.3" stroke="#111" stroke-width="1.0"/>
<line x1="330.7" y1="754.6" x2="325.7" y2="742.8" stroke="#111" stroke-width="1.0"/>
<circle cx="181.4" cy="631.7" r="3" fill="#2a2a2a" stroke="#111" stroke-width="0.8"/>
<circle cx="181.4" cy="750.1" r="3" fill="#2a2a2a" stroke="#111" stroke-width="0.8"/>
<circle cx="226" cy="631.7" r="3" fill="#2a2a2a" stroke="#111" stroke-width="0.8"/>
<circle cx="226" cy="750.1" r="3" fill="#2a2a2a" stroke="#111" stroke-width="0.8"/>
<circle cx="270.6" cy="631.7" r="3" fill="#2a2a2a" stroke="#111" stroke-width="0.8"/>
<circle cx="270.6" cy="750.1" r="3" fill="#2a2a2a" stroke="#111" stroke-width="0.8"/>
<circle cx="315.2" cy="631.7" r="3" fill="#2a2a2a" stroke="#111" stroke-width="0.8"/>
<circle cx="315.2" cy="750.1" r="3" fill="#2a2a2a" stroke="#111" stroke-width="0.8"/>
<circle cx="163" cy="650.2" r="3" fill="#2a2a2a" stroke="#111" stroke-width="0.8"/>
<circle cx="333.6" cy="650.2" r="3" fill="#2a2a2a" stroke="#111" stroke-width="0.8"/>
<circle cx="163" cy="690.9" r="3" fill="#2a2a2a" stroke="#111" stroke-width="0.8"/>
<circle cx="333.6" cy="690.9" r="3" fill="#2a2a2a" stroke="#111" stroke-width="0.8"/>
<circle cx="163" cy="731.6" r="3" fill="#2a2a2a" stroke="#111" stroke-width="0.8"/>
<circle cx="333.6" cy="731.6" r="3" fill="#2a2a2a" stroke="#111" stroke-width="0.8"/>
<path d="M173,647 L177.5,642.5 L182.5,646 L178,650.5 Z" fill="#333" stroke="#111" stroke-width="1.3" />
<path d="M176,646.5 L178,644.5 L180,646 L178,648 Z" fill="#fff" stroke="none" stroke-width="0" />
<use href="#sw" transform="translate(181.4 652.6) scale(0.99 0.97)"/>
<use href="#sw" transform="translate(209 652.6) scale(0.99 0.97)"/>
<use href="#sw" transform="translate(236.6 652.6) scale(0.99 0.97)"/>
<use href="#sw" transform="translate(264.2 652.6) scale(0.99 0.97)"/>
<use href="#sw" transform="translate(291.8 652.6) scale(0.99 0.97)"/>
<use href="#sw" transform="translate(181.4 701) scale(0.99 0.97)"/>
<use href="#sw" transform="translate(209 701) scale(0.99 0.97)"/>
<use href="#sw" transform="translate(236.6 701) scale(0.99 0.97)"/>
<use href="#sw" transform="translate(264.2 701) scale(0.99 0.97)"/>
<use href="#sw" transform="translate(291.8 701) scale(0.99 0.97)"/>
<rect x="232.5" y="745" width="32.7" height="6.5" fill="#fff" stroke="#111" stroke-width="1.2" rx="1"/>
<rect x="234.5" y="746.5" width="28.7" height="3.5" fill="#3a3a3a" stroke="none" stroke-width="0"/>
<use href="#gld" transform="translate(236.3 882.3) scale(0.99 1.15)"/>
<line x1="148" y1="452" x2="148" y2="501" stroke="#333" stroke-width="0.9"/>
<line x1="349.2" y1="452" x2="349.2" y2="501" stroke="#333" stroke-width="0.9"/>
<line x1="148" y1="456" x2="349.2" y2="456" stroke="#333" stroke-width="1.0"/>
<polygon points="148,456 159.5,454 159.5,458" fill="#111"/>
<polygon points="349.2,456 337.7,454 337.7,458" fill="#111"/>
<text x="236.04" y="454" font-size="16" textLength="25.12" lengthAdjust="spacingAndGlyphs" fill="#1a1a1a">500</text>
<line x1="157.6" y1="468" x2="157.6" y2="500" stroke="#333" stroke-width="0.9"/>
<line x1="338.8" y1="468" x2="338.8" y2="540" stroke="#333" stroke-width="0.9"/>
<line x1="157.6" y1="472.5" x2="338.8" y2="472.5" stroke="#333" stroke-width="1.0"/>
<polygon points="157.6,472.5 169.1,470.5 169.1,474.5" fill="#111"/>
<polygon points="338.8,472.5 327.3,470.5 327.3,474.5" fill="#111"/>
<text x="234.96" y="469.8" font-size="15.43" textLength="26.18" lengthAdjust="spacingAndGlyphs" fill="#1a1a1a">450</text>
<line x1="367" y1="462.2" x2="367" y2="529" stroke="#333" stroke-width="0.9"/>
<polygon points="367,501.3 365,489.8 369,489.8" fill="#111"/>
<polygon points="367,506.4 365,517.9 369,517.9" fill="#111"/>
<line x1="354.8" y1="501.3" x2="371.7" y2="501.3" stroke="#333" stroke-width="0.9"/>
<line x1="354.8" y1="506.4" x2="371.7" y2="506.4" stroke="#333" stroke-width="0.9"/>
<text x="362" y="478.35" font-size="15.71" textLength="16.2" lengthAdjust="spacingAndGlyphs" fill="#1a1a1a" transform="rotate(-90 362 478.35)">13</text>
<line x1="344" y1="507" x2="344" y2="532" stroke="#333" stroke-width="0.9"/>
<line x1="353.9" y1="507" x2="353.9" y2="532" stroke="#333" stroke-width="0.9"/>
<line x1="321" y1="527.6" x2="393.8" y2="527.6" stroke="#333" stroke-width="0.9"/>
<polygon points="355.7,527.6 367.2,525.6 367.2,529.6" fill="#111"/>
<polygon points="338.8,527.6 331.8,525.6 331.8,529.6" fill="#111"/>
<text x="375.47" y="523.6" font-size="15.14" textLength="18.06" lengthAdjust="spacingAndGlyphs" fill="#1a1a1a">25</text>
<line x1="103" y1="500" x2="157" y2="500" stroke="#333" stroke-width="0.9"/>
<line x1="121" y1="503.5" x2="157" y2="503.5" stroke="#333" stroke-width="0.9"/>
<line x1="103" y1="882.3" x2="157" y2="882.3" stroke="#333" stroke-width="0.9"/>
<line x1="121" y1="877" x2="157" y2="877" stroke="#333" stroke-width="0.9"/>
<line x1="110.1" y1="500" x2="110.1" y2="882.3" stroke="#333" stroke-width="1.0"/>
<polygon points="110.1,500 108.1,511.5 112.1,511.5" fill="#111"/>
<polygon points="110.1,882.3 108.1,870.8 112.1,870.8" fill="#111"/>
<line x1="127.7" y1="503.5" x2="127.7" y2="877" stroke="#333" stroke-width="1.0"/>
<polygon points="127.7,503.5 125.7,515 129.7,515" fill="#111"/>
<polygon points="127.7,877 125.7,865.5 129.7,865.5" fill="#111"/>
<text x="88.67" y="697" font-size="15" textLength="23.65" lengthAdjust="spacingAndGlyphs" fill="#1a1a1a">952</text>
<text x="124.3" y="700.03" font-size="15.14" textLength="20.36" lengthAdjust="spacingAndGlyphs" fill="#1a1a1a" transform="rotate(-90 124.3 700.03)">930</text>
<path d="M752.8,455.5 H732.8 V434.3 H954.5 V455.5 H934" fill="none" stroke="#111" stroke-width="1.3" />
<ellipse cx="743.3" cy="444.1" rx="5.2" ry="3" fill="none" stroke="#111" stroke-width="1.3"/>
<ellipse cx="944.2" cy="444.1" rx="5.2" ry="3" fill="none" stroke="#111" stroke-width="1.3"/>
<path d="M752.8,861.7 H733 V882 H954 V861.7 H934" fill="none" stroke="#111" stroke-width="1.3" />
<line x1="733" y1="874" x2="954" y2="874" stroke="#111" stroke-width="1.3"/>
<ellipse cx="743" cy="871.5" rx="5.2" ry="3.2" fill="none" stroke="#111" stroke-width="1.3"/>
<ellipse cx="944" cy="871.5" rx="5.2" ry="3.2" fill="none" stroke="#111" stroke-width="1.3"/>
<use href="#glu" transform="translate(776 415.5) scale(1.02)"/>
<use href="#glu" transform="translate(800 415.5) scale(1.02)"/>
<use href="#glu" transform="translate(823.9 415.5) scale(1.02)"/>
<use href="#glu" transform="translate(847.9 415.5) scale(1.02)"/>
<use href="#glu" transform="translate(871.9 415.5) scale(1.02)"/>
<use href="#glu" transform="translate(895.9 415.5) scale(1.02)"/>
<rect x="753.6" y="440.5" width="179.6" height="127" fill="#fff" stroke="#111" stroke-width="1.5"/>
<line x1="757" y1="443.5" x2="757" y2="564.5" stroke="#111" stroke-width="1.0"/>
<line x1="929.8" y1="443.5" x2="929.8" y2="564.5" stroke="#111" stroke-width="1.0"/>
<circle cx="757.2" cy="444.1" r="3" fill="#2a2a2a" stroke="#111" stroke-width="0.8"/>
<circle cx="757.2" cy="563.9" r="3" fill="#2a2a2a" stroke="#111" stroke-width="0.8"/>
<circle cx="929.6" cy="444.1" r="3" fill="#2a2a2a" stroke="#111" stroke-width="0.8"/>
<circle cx="929.6" cy="563.9" r="3" fill="#2a2a2a" stroke="#111" stroke-width="0.8"/>
<rect x="760.8" y="441.5" width="14" height="2.6" fill="#222" stroke="none" stroke-width="0"/>
<rect x="760.8" y="563.9" width="14" height="2.6" fill="#222" stroke="none" stroke-width="0"/>
<rect x="912" y="441.5" width="14" height="2.6" fill="#222" stroke="none" stroke-width="0"/>
<rect x="912" y="563.9" width="14" height="2.6" fill="#222" stroke="none" stroke-width="0"/>
<path d="M778.8,441 L781.8,443.5 H905 L908,441" fill="none" stroke="#111" stroke-width="1.1" />
<path d="M778.8,567 L781.8,564.5 H905 L908,567" fill="none" stroke="#111" stroke-width="1.1" />
<rect x="929.4" y="446" width="3.6" height="17" fill="#222" stroke="none" stroke-width="0"/>
<path d="M929.6,463 L927.6,466 V469" fill="none" stroke="#111" stroke-width="1.0" />
<rect x="748.6" y="447" width="8.4" height="15" fill="#fff" stroke="#111" stroke-width="1.1" rx="1.2"/>
<rect x="753.2" y="447.5" width="3.8" height="14" fill="#222" stroke="none" stroke-width="0"/>
<rect x="749.4" y="448" width="2.8" height="3.6" fill="#fff" stroke="#111" stroke-width="1.0" rx="0.8"/>
<rect x="749.4" y="452.6" width="2.8" height="3.6" fill="#fff" stroke="#111" stroke-width="1.0" rx="0.8"/>
<rect x="749.4" y="457.2" width="2.8" height="3.6" fill="#fff" stroke="#111" stroke-width="1.0" rx="0.8"/>
<rect x="929.4" y="545" width="3.6" height="17" fill="#222" stroke="none" stroke-width="0"/>
<path d="M929.6,562 L927.6,565 V568" fill="none" stroke="#111" stroke-width="1.0" />
<rect x="748.6" y="546" width="8.4" height="15" fill="#fff" stroke="#111" stroke-width="1.1" rx="1.2"/>
<rect x="753.2" y="546.5" width="3.8" height="14" fill="#222" stroke="none" stroke-width="0"/>
<rect x="749.4" y="547" width="2.8" height="3.6" fill="#fff" stroke="#111" stroke-width="1.0" rx="0.8"/>
<rect x="749.4" y="551.6" width="2.8" height="3.6" fill="#fff" stroke="#111" stroke-width="1.0" rx="0.8"/>
<rect x="749.4" y="556.2" width="2.8" height="3.6" fill="#fff" stroke="#111" stroke-width="1.0" rx="0.8"/>
<use href="#so" transform="translate(789.5 504.9) scale(1.11 1.04)"/>
<use href="#so" transform="translate(807.78 504.9) scale(1.11 1.04)"/>
<use href="#so" transform="translate(826.06 504.9) scale(1.11 1.04)"/>
<use href="#so" transform="translate(844.34 504.9) scale(1.11 1.04)"/>
<use href="#so" transform="translate(862.62 504.9) scale(1.11 1.04)"/>
<use href="#so" transform="translate(880.9 504.9) scale(1.11 1.04)"/>
<use href="#so" transform="translate(789.5 529.4) scale(1.11 1.04)"/>
<use href="#so" transform="translate(807.78 529.4) scale(1.11 1.04)"/>
<use href="#so" transform="translate(826.06 529.4) scale(1.11 1.04)"/>
<use href="#so" transform="translate(844.34 529.4) scale(1.11 1.04)"/>
<use href="#so" transform="translate(862.62 529.4) scale(1.11 1.04)"/>
<use href="#so" transform="translate(880.9 529.4) scale(1.11 1.04)"/>
<text x="766.5" y="552.5" font-size="10.5" text-anchor="middle" fill="#222" transform="rotate(-118 766.5 552.5)">Exe</text>
<rect x="753.4" y="751.6" width="179.4" height="124.4" fill="#fff" stroke="#111" stroke-width="1.5"/>
<line x1="756.8" y1="754.6" x2="756.8" y2="873" stroke="#111" stroke-width="1.0"/>
<line x1="929.4" y1="754.6" x2="929.4" y2="873" stroke="#111" stroke-width="1.0"/>
<circle cx="757" cy="755.2" r="3" fill="#2a2a2a" stroke="#111" stroke-width="0.8"/>
<circle cx="757" cy="872.4" r="3" fill="#2a2a2a" stroke="#111" stroke-width="0.8"/>
<circle cx="929.2" cy="755.2" r="3" fill="#2a2a2a" stroke="#111" stroke-width="0.8"/>
<circle cx="929.2" cy="872.4" r="3" fill="#2a2a2a" stroke="#111" stroke-width="0.8"/>
<rect x="760.6" y="752.6" width="14" height="2.6" fill="#222" stroke="none" stroke-width="0"/>
<rect x="760.6" y="872.4" width="14" height="2.6" fill="#222" stroke="none" stroke-width="0"/>
<rect x="911.6" y="752.6" width="14" height="2.6" fill="#222" stroke="none" stroke-width="0"/>
<rect x="911.6" y="872.4" width="14" height="2.6" fill="#222" stroke="none" stroke-width="0"/>
<path d="M778.6,752.1 L781.6,754.6 H904.6 L907.6,752.1" fill="none" stroke="#111" stroke-width="1.1" />
<path d="M778.6,875.5 L781.6,873 H904.6 L907.6,875.5" fill="none" stroke="#111" stroke-width="1.1" />
<rect x="929" y="757.1" width="3.6" height="17" fill="#222" stroke="none" stroke-width="0"/>
<path d="M929.2,774.1 L927.2,777.1 V780.1" fill="none" stroke="#111" stroke-width="1.0" />
<rect x="748.4" y="758.1" width="8.4" height="15" fill="#fff" stroke="#111" stroke-width="1.1" rx="1.2"/>
<rect x="753" y="758.6" width="3.8" height="14" fill="#222" stroke="none" stroke-width="0"/>
<rect x="749.2" y="759.1" width="2.8" height="3.6" fill="#fff" stroke="#111" stroke-width="1.0" rx="0.8"/>
<rect x="749.2" y="763.7" width="2.8" height="3.6" fill="#fff" stroke="#111" stroke-width="1.0" rx="0.8"/>
<rect x="749.2" y="768.3" width="2.8" height="3.6" fill="#fff" stroke="#111" stroke-width="1.0" rx="0.8"/>
<rect x="929" y="853.5" width="3.6" height="17" fill="#222" stroke="none" stroke-width="0"/>
<path d="M929.2,870.5 L927.2,873.5 V876.5" fill="none" stroke="#111" stroke-width="1.0" />
<rect x="748.4" y="854.5" width="8.4" height="15" fill="#fff" stroke="#111" stroke-width="1.1" rx="1.2"/>
<rect x="753" y="855" width="3.8" height="14" fill="#222" stroke="none" stroke-width="0"/>
<rect x="749.2" y="855.5" width="2.8" height="3.6" fill="#fff" stroke="#111" stroke-width="1.0" rx="0.8"/>
<rect x="749.2" y="860.1" width="2.8" height="3.6" fill="#fff" stroke="#111" stroke-width="1.0" rx="0.8"/>
<rect x="749.2" y="864.7" width="2.8" height="3.6" fill="#fff" stroke="#111" stroke-width="1.0" rx="0.8"/>
<rect x="825.5" y="850.7" width="36.7" height="19.1" fill="#fff" stroke="#111" stroke-width="1.6" rx="1.5"/>
<text x="766.3" y="863" font-size="10.5" text-anchor="middle" fill="#222" transform="rotate(-118 766.3 863)">Exe</text>
<rect x="753.9" y="564.8" width="178.4" height="186" fill="#fff" stroke="#111" stroke-width="2.6" rx="9"/>
<rect x="755.9" y="566.6" width="174.4" height="182.4" fill="none" stroke="#111" stroke-width="0.9" rx="7"/>
<line x1="762.6" y1="569.22" x2="923.6" y2="569.22" stroke="#111" stroke-width="0.9"/>
<rect x="781.6" y="569.22" width="34.33" height="7.57" fill="#fff" stroke="#111" stroke-width="0.9"/>
<line x1="785.6" y1="569.73" x2="785.6" y2="576.3" stroke="#111" stroke-width="0.9"/>
<line x1="788.6" y1="569.73" x2="788.6" y2="576.3" stroke="#111" stroke-width="0.9"/>
<line x1="791.6" y1="569.73" x2="791.6" y2="576.3" stroke="#111" stroke-width="0.9"/>
<rect x="825.93" y="569.22" width="34.33" height="7.57" fill="#fff" stroke="#111" stroke-width="0.9"/>
<line x1="829.93" y1="569.73" x2="829.93" y2="576.3" stroke="#111" stroke-width="0.9"/>
<line x1="832.93" y1="569.73" x2="832.93" y2="576.3" stroke="#111" stroke-width="0.9"/>
<line x1="835.93" y1="569.73" x2="835.93" y2="576.3" stroke="#111" stroke-width="0.9"/>
<rect x="870.27" y="569.22" width="34.33" height="7.57" fill="#fff" stroke="#111" stroke-width="0.9"/>
<line x1="874.27" y1="569.73" x2="874.27" y2="576.3" stroke="#111" stroke-width="0.9"/>
<line x1="877.27" y1="569.73" x2="877.27" y2="576.3" stroke="#111" stroke-width="0.9"/>
<line x1="880.27" y1="569.73" x2="880.27" y2="576.3" stroke="#111" stroke-width="0.9"/>
<line x1="762.6" y1="740.32" x2="923.6" y2="740.32" stroke="#111" stroke-width="0.9"/>
<rect x="781.6" y="740.32" width="34.33" height="7.58" fill="#fff" stroke="#111" stroke-width="0.9"/>
<line x1="785.6" y1="740.82" x2="785.6" y2="747.4" stroke="#111" stroke-width="0.9"/>
<line x1="788.6" y1="740.82" x2="788.6" y2="747.4" stroke="#111" stroke-width="0.9"/>
<line x1="791.6" y1="740.82" x2="791.6" y2="747.4" stroke="#111" stroke-width="0.9"/>
<rect x="825.93" y="740.32" width="34.33" height="7.58" fill="#fff" stroke="#111" stroke-width="0.9"/>
<line x1="829.93" y1="740.82" x2="829.93" y2="747.4" stroke="#111" stroke-width="0.9"/>
<line x1="832.93" y1="740.82" x2="832.93" y2="747.4" stroke="#111" stroke-width="0.9"/>
<line x1="835.93" y1="740.82" x2="835.93" y2="747.4" stroke="#111" stroke-width="0.9"/>
<rect x="870.27" y="740.32" width="34.33" height="7.58" fill="#fff" stroke="#111" stroke-width="0.9"/>
<line x1="874.27" y1="740.82" x2="874.27" y2="747.4" stroke="#111" stroke-width="0.9"/>
<line x1="877.27" y1="740.82" x2="877.27" y2="747.4" stroke="#111" stroke-width="0.9"/>
<line x1="880.27" y1="740.82" x2="880.27" y2="747.4" stroke="#111" stroke-width="0.9"/>
<rect x="757.7" y="595" width="3.6" height="23.9" fill="#fff" stroke="#111" stroke-width="0.9"/>
<line x1="757.34" y1="599" x2="761.66" y2="599" stroke="#111" stroke-width="0.9"/>
<line x1="757.34" y1="602.2" x2="761.66" y2="602.2" stroke="#111" stroke-width="0.9"/>
<line x1="757.34" y1="605.4" x2="761.66" y2="605.4" stroke="#111" stroke-width="0.9"/>
<rect x="757.7" y="628.9" width="3.6" height="23.9" fill="#fff" stroke="#111" stroke-width="0.9"/>
<line x1="757.34" y1="632.9" x2="761.66" y2="632.9" stroke="#111" stroke-width="0.9"/>
<line x1="757.34" y1="636.1" x2="761.66" y2="636.1" stroke="#111" stroke-width="0.9"/>
<line x1="757.34" y1="639.3" x2="761.66" y2="639.3" stroke="#111" stroke-width="0.9"/>
<rect x="757.7" y="662.8" width="3.6" height="23.9" fill="#fff" stroke="#111" stroke-width="0.9"/>
<line x1="757.34" y1="666.8" x2="761.66" y2="666.8" stroke="#111" stroke-width="0.9"/>
<line x1="757.34" y1="670" x2="761.66" y2="670" stroke="#111" stroke-width="0.9"/>
<line x1="757.34" y1="673.2" x2="761.66" y2="673.2" stroke="#111" stroke-width="0.9"/>
<rect x="757.7" y="696.7" width="3.6" height="23.9" fill="#fff" stroke="#111" stroke-width="0.9"/>
<line x1="757.34" y1="700.7" x2="761.66" y2="700.7" stroke="#111" stroke-width="0.9"/>
<line x1="757.34" y1="703.9" x2="761.66" y2="703.9" stroke="#111" stroke-width="0.9"/>
<line x1="757.34" y1="707.1" x2="761.66" y2="707.1" stroke="#111" stroke-width="0.9"/>
<rect x="924.9" y="595" width="3.6" height="23.9" fill="#fff" stroke="#111" stroke-width="0.9"/>
<line x1="924.54" y1="599" x2="928.86" y2="599" stroke="#111" stroke-width="0.9"/>
<line x1="924.54" y1="602.2" x2="928.86" y2="602.2" stroke="#111" stroke-width="0.9"/>
<line x1="924.54" y1="605.4" x2="928.86" y2="605.4" stroke="#111" stroke-width="0.9"/>
<rect x="924.9" y="628.9" width="3.6" height="23.9" fill="#fff" stroke="#111" stroke-width="0.9"/>
<line x1="924.54" y1="632.9" x2="928.86" y2="632.9" stroke="#111" stroke-width="0.9"/>
<line x1="924.54" y1="636.1" x2="928.86" y2="636.1" stroke="#111" stroke-width="0.9"/>
<line x1="924.54" y1="639.3" x2="928.86" y2="639.3" stroke="#111" stroke-width="0.9"/>
<rect x="924.9" y="662.8" width="3.6" height="23.9" fill="#fff" stroke="#111" stroke-width="0.9"/>
<line x1="924.54" y1="666.8" x2="928.86" y2="666.8" stroke="#111" stroke-width="0.9"/>
<line x1="924.54" y1="670" x2="928.86" y2="670" stroke="#111" stroke-width="0.9"/>
<line x1="924.54" y1="673.2" x2="928.86" y2="673.2" stroke="#111" stroke-width="0.9"/>
<rect x="924.9" y="696.7" width="3.6" height="23.9" fill="#fff" stroke="#111" stroke-width="0.9"/>
<line x1="924.54" y1="700.7" x2="928.86" y2="700.7" stroke="#111" stroke-width="0.9"/>
<line x1="924.54" y1="703.9" x2="928.86" y2="703.9" stroke="#111" stroke-width="0.9"/>
<line x1="924.54" y1="707.1" x2="928.86" y2="707.1" stroke="#111" stroke-width="0.9"/>
<rect x="763.6" y="577.8" width="159" height="160" fill="none" stroke="#111" stroke-width="2.3" rx="4"/>
<rect x="765.8" y="580" width="154.6" height="155.6" fill="none" stroke="#111" stroke-width="0.9" rx="3"/>
<line x1="756.1" y1="572.5" x2="764.6" y2="580.3" stroke="#111" stroke-width="1.0"/>
<line x1="761.1" y1="567" x2="766.1" y2="578.8" stroke="#111" stroke-width="1.0"/>
<line x1="930.1" y1="572.5" x2="921.6" y2="580.3" stroke="#111" stroke-width="1.0"/>
<line x1="925.1" y1="567" x2="920.1" y2="578.8" stroke="#111" stroke-width="1.0"/>
<line x1="756.1" y1="743.1" x2="764.6" y2="735.3" stroke="#111" stroke-width="1.0"/>
<line x1="761.1" y1="748.6" x2="766.1" y2="736.8" stroke="#111" stroke-width="1.0"/>
<line x1="930.1" y1="743.1" x2="921.6" y2="735.3" stroke="#111" stroke-width="1.0"/>
<line x1="925.1" y1="748.6" x2="920.1" y2="736.8" stroke="#111" stroke-width="1.0"/>
<circle cx="776.6" cy="571.5" r="3" fill="#2a2a2a" stroke="#111" stroke-width="0.8"/>
<circle cx="776.6" cy="744.1" r="3" fill="#2a2a2a" stroke="#111" stroke-width="0.8"/>
<circle cx="820.93" cy="571.5" r="3" fill="#2a2a2a" stroke="#111" stroke-width="0.8"/>
<circle cx="820.93" cy="744.1" r="3" fill="#2a2a2a" stroke="#111" stroke-width="0.8"/>
<circle cx="865.27" cy="571.5" r="3" fill="#2a2a2a" stroke="#111" stroke-width="0.8"/>
<circle cx="865.27" cy="744.1" r="3" fill="#2a2a2a" stroke="#111" stroke-width="0.8"/>
<circle cx="909.6" cy="571.5" r="3" fill="#2a2a2a" stroke="#111" stroke-width="0.8"/>
<circle cx="909.6" cy="744.1" r="3" fill="#2a2a2a" stroke="#111" stroke-width="0.8"/>
<circle cx="758.2" cy="590" r="3" fill="#2a2a2a" stroke="#111" stroke-width="0.8"/>
<circle cx="928" cy="590" r="3" fill="#2a2a2a" stroke="#111" stroke-width="0.8"/>
<circle cx="758.2" cy="623.9" r="3" fill="#2a2a2a" stroke="#111" stroke-width="0.8"/>
<circle cx="928" cy="623.9" r="3" fill="#2a2a2a" stroke="#111" stroke-width="0.8"/>
<circle cx="758.2" cy="657.8" r="3" fill="#2a2a2a" stroke="#111" stroke-width="0.8"/>
<circle cx="928" cy="657.8" r="3" fill="#2a2a2a" stroke="#111" stroke-width="0.8"/>
<circle cx="758.2" cy="691.7" r="3" fill="#2a2a2a" stroke="#111" stroke-width="0.8"/>
<circle cx="928" cy="691.7" r="3" fill="#2a2a2a" stroke="#111" stroke-width="0.8"/>
<circle cx="758.2" cy="725.6" r="3" fill="#2a2a2a" stroke="#111" stroke-width="0.8"/>
<circle cx="928" cy="725.6" r="3" fill="#2a2a2a" stroke="#111" stroke-width="0.8"/>
<rect x="839.4" y="586" width="8.6" height="5.5" fill="none"/>
<text x="843.7" y="591.3" font-size="7.5" font-weight="bold" text-anchor="middle" fill="#222">Ex</text>
<use href="#sw" transform="translate(777 595.2) scale(0.99 0.985)"/>
<use href="#sw" transform="translate(813 595.2) scale(0.99 0.985)"/>
<use href="#sw" transform="translate(849 595.2) scale(0.99 0.985)"/>
<use href="#sw" transform="translate(885 595.2) scale(0.99 0.985)"/>
<use href="#sw" transform="translate(777 643.3) scale(0.99 0.985)"/>
<use href="#sw" transform="translate(813 643.3) scale(0.99 0.985)"/>
<use href="#sw" transform="translate(849 643.3) scale(0.99 0.985)"/>
<use href="#sw" transform="translate(885 643.3) scale(0.99 0.985)"/>
<use href="#sw" transform="translate(777 692.2) scale(0.99 0.985)"/>
<use href="#sw" transform="translate(813 692.2) scale(0.99 0.985)"/>
<use href="#sw" transform="translate(849 692.2) scale(0.99 0.985)"/>
<use href="#sw" transform="translate(885 692.2) scale(0.99 0.985)"/>
<rect x="824.7" y="724.3" width="37.9" height="9" fill="#fff" stroke="#111" stroke-width="1.4" rx="1.5"/>
<rect x="826.7" y="726.3" width="33.9" height="5" fill="#333" stroke="none" stroke-width="0"/>
<use href="#gld" transform="translate(830.8 877.8) scale(0.98 1.09)"/>
<line x1="742.6" y1="390" x2="742.6" y2="442" stroke="#333" stroke-width="0.9"/>
<line x1="943.7" y1="390" x2="943.7" y2="442" stroke="#333" stroke-width="0.9"/>
<line x1="742.6" y1="396" x2="943.7" y2="396" stroke="#333" stroke-width="1.0"/>
<polygon points="742.6,396 754.1,394 754.1,398" fill="#111"/>
<polygon points="943.7,396 932.2,394 932.2,398" fill="#111"/>
<text x="829.99" y="392.7" font-size="14.57" textLength="25.02" lengthAdjust="spacingAndGlyphs" fill="#1a1a1a">500</text>
<line x1="752.8" y1="407" x2="752.8" y2="440" stroke="#333" stroke-width="0.9"/>
<line x1="933.8" y1="408.2" x2="933.8" y2="480" stroke="#333" stroke-width="0.9"/>
<line x1="752.8" y1="412.3" x2="933.8" y2="412.3" stroke="#333" stroke-width="1.0"/>
<polygon points="752.8,412.3 764.3,410.3 764.3,414.3" fill="#111"/>
<polygon points="933.8,412.3 922.3,410.3 922.3,414.3" fill="#111"/>
<text x="830.01" y="408.75" font-size="13.93" textLength="24.98" lengthAdjust="spacingAndGlyphs" fill="#1a1a1a">450</text>
<line x1="962" y1="402.5" x2="962" y2="470.3" stroke="#333" stroke-width="0.9"/>
<polygon points="962,441.8 960,430.3 964,430.3" fill="#111"/>
<polygon points="962,446.9 960,458.4 964,458.4" fill="#111"/>
<line x1="949.8" y1="441.8" x2="966.7" y2="441.8" stroke="#333" stroke-width="0.9"/>
<line x1="949.8" y1="446.9" x2="966.7" y2="446.9" stroke="#333" stroke-width="0.9"/>
<text x="943.98" y="416.25" font-size="15" textLength="15.3" lengthAdjust="spacingAndGlyphs" fill="#1a1a1a">13</text>
<line x1="939" y1="447.7" x2="939" y2="472.6" stroke="#333" stroke-width="0.9"/>
<line x1="948.9" y1="447.7" x2="948.9" y2="472.6" stroke="#333" stroke-width="0.9"/>
<line x1="916" y1="467.6" x2="989.3" y2="467.6" stroke="#333" stroke-width="0.9"/>
<polygon points="950.7,467.6 962.2,465.6 962.2,469.6" fill="#111"/>
<polygon points="933.8,467.6 926.8,465.6 926.8,469.6" fill="#111"/>
<text x="971.76" y="463.5" font-size="13.93" textLength="17.48" lengthAdjust="spacingAndGlyphs" fill="#1a1a1a">25</text>
<line x1="700" y1="440.3" x2="752" y2="440.3" stroke="#333" stroke-width="0.9"/>
<line x1="718" y1="444.5" x2="752" y2="444.5" stroke="#333" stroke-width="0.9"/>
<line x1="700" y1="876.2" x2="733" y2="876.2" stroke="#333" stroke-width="0.9"/>
<line x1="718" y1="872" x2="733" y2="872" stroke="#333" stroke-width="0.9"/>
<line x1="705.3" y1="440.3" x2="705.3" y2="876.2" stroke="#333" stroke-width="1.0"/>
<polygon points="705.3,440.3 703.3,451.8 707.3,451.8" fill="#111"/>
<polygon points="705.3,876.2 703.3,864.7 707.3,864.7" fill="#111"/>
<line x1="722.8" y1="444.5" x2="722.8" y2="872" stroke="#333" stroke-width="1.0"/>
<polygon points="722.8,444.5 720.8,456 724.8,456" fill="#111"/>
<polygon points="722.8,872 720.8,860.5 724.8,860.5" fill="#111"/>
<text x="704.5" y="674.83" font-size="20.71" textLength="36.05" lengthAdjust="spacingAndGlyphs" fill="#1a1a1a" transform="rotate(-90 704.5 674.83)">1086</text>
<text x="722.8" y="678.81" font-size="17.43" textLength="46.02" lengthAdjust="spacingAndGlyphs" fill="#1a1a1a" transform="rotate(-90 722.8 678.81)">1064.5</text>
<use href="#glus" transform="translate(413 475.3) scale(1.05 1.02)"/>
<use href="#glus" transform="translate(431.8 475.3) scale(1.11 1.02)"/>
<rect x="405" y="499.8" width="53" height="126.6" fill="#fff" stroke="#111" stroke-width="1.3"/>
<rect x="458" y="499.8" width="7.3" height="126.6" fill="#fff" stroke="#111" stroke-width="1.2"/>
<path d="M459.5,529.8 Q463,529.8 463,533.8 V592.4 Q463,596.4 459.5,596.4" fill="none" stroke="#111" stroke-width="1.2" />
<rect x="443.6" y="507.3" width="21.1" height="14.3" fill="#fff" stroke="#111" stroke-width="1.3" rx="2"/>
<circle cx="445.8" cy="509.5" r="2" fill="#222"/>
<circle cx="462.5" cy="509.5" r="2" fill="#222"/>
<circle cx="445.8" cy="519.4" r="2" fill="#222"/>
<circle cx="462.5" cy="519.4" r="2" fill="#222"/>
<line x1="457.7" y1="507.3" x2="457.7" y2="521.6" stroke="#111" stroke-width="1.1"/>
<rect x="452.3" y="508.2" width="3.6" height="12.5" fill="#fff" stroke="#111" stroke-width="0.9"/>
<line x1="452.3" y1="512.45" x2="455.9" y2="512.45" stroke="#111" stroke-width="0.9"/>
<line x1="452.3" y1="516.45" x2="455.9" y2="516.45" stroke="#111" stroke-width="0.9"/>
<path d="M448,514.45 L450.5,512.45 M448,514.45 L450.5,516.45" fill="none" stroke="#111" stroke-width="0.9" />
<rect x="443.6" y="604.5" width="21.1" height="14.3" fill="#fff" stroke="#111" stroke-width="1.3" rx="2"/>
<circle cx="445.8" cy="606.7" r="2" fill="#222"/>
<circle cx="462.5" cy="606.7" r="2" fill="#222"/>
<circle cx="445.8" cy="616.6" r="2" fill="#222"/>
<circle cx="462.5" cy="616.6" r="2" fill="#222"/>
<line x1="457.7" y1="604.5" x2="457.7" y2="618.8" stroke="#111" stroke-width="1.1"/>
<rect x="452.3" y="605.4" width="3.6" height="12.5" fill="#fff" stroke="#111" stroke-width="0.9"/>
<line x1="452.3" y1="609.65" x2="455.9" y2="609.65" stroke="#111" stroke-width="0.9"/>
<line x1="452.3" y1="613.65" x2="455.9" y2="613.65" stroke="#111" stroke-width="0.9"/>
<path d="M448,611.65 L450.5,609.65 M448,611.65 L450.5,613.65" fill="none" stroke="#111" stroke-width="0.9" />
<path d="M465.3,573.5 H468.3 Q474.8,573.5 474.8,581.5 Q474.8,589.5 468.3,589.5 H465.3" fill="#fff" stroke="#111" stroke-width="1.5" />
<line x1="472.3" y1="577.5" x2="472.3" y2="585.5" stroke="#666" stroke-width="0.8"/>
<path d="M465.3,598.5 H468.3 Q474.8,598.5 474.8,606.5 Q474.8,614.5 468.3,614.5 H465.3" fill="#fff" stroke="#111" stroke-width="1.5" />
<line x1="472.3" y1="602.5" x2="472.3" y2="610.5" stroke="#666" stroke-width="0.8"/>
<rect x="405" y="626.4" width="60.2" height="128.4" fill="#fff" stroke="#111" stroke-width="1.4"/>
<line x1="454.2" y1="626.4" x2="454.2" y2="754.8" stroke="#111" stroke-width="1.2"/>
<line x1="458.7" y1="626.4" x2="458.7" y2="754.8" stroke="#111" stroke-width="1.2"/>
<line x1="461.7" y1="626.4" x2="461.7" y2="754.8" stroke="#111" stroke-width="0.9"/>
<path d="M405,637.4 H454.2 M405,743.8 H454.2" fill="none" stroke="#111" stroke-width="1.2" />
<path d="M410,626.4 V647.4 H405 M410,754.8 V733.8 H405" fill="none" stroke="#111" stroke-width="1.1" />
<line x1="450.7" y1="626.4" x2="450.7" y2="637.4" stroke="#111" stroke-width="1.0"/>
<line x1="450.7" y1="754.8" x2="450.7" y2="743.8" stroke="#111" stroke-width="1.0"/>
<rect x="452.6" y="637.4" width="2.4" height="6" fill="#333" stroke="none" stroke-width="0" rx="1"/>
<rect x="452.6" y="670.87" width="2.4" height="6" fill="#333" stroke="none" stroke-width="0" rx="1"/>
<rect x="452.6" y="704.33" width="2.4" height="6" fill="#333" stroke="none" stroke-width="0" rx="1"/>
<rect x="452.6" y="737.8" width="2.4" height="6" fill="#333" stroke="none" stroke-width="0" rx="1"/>
<path d="M454.2,662.49 A2,2.2 0 0 1 454.2,666.89" fill="none" stroke="#111" stroke-width="1.1" />
<circle cx="455" cy="664.69" r="0.9" fill="#111"/>
<path d="M454.2,706.14 A2,2.2 0 0 1 454.2,710.54" fill="none" stroke="#111" stroke-width="1.1" />
<circle cx="455" cy="708.34" r="0.9" fill="#111"/>
<path d="M454.2,667.49 A2,2.2 0 0 1 454.2,671.89" fill="none" stroke="#111" stroke-width="1.1" />
<circle cx="455" cy="669.69" r="0.9" fill="#111"/>
<path d="M454.2,711.14 A2,2.2 0 0 1 454.2,715.54" fill="none" stroke="#111" stroke-width="1.1" />
<circle cx="455" cy="713.34" r="0.9" fill="#111"/>
<path d="M465.2,637.2 H475.1 Q477.1,637.2 477.1,639.2 V743.4 Q477.1,745.4 475.1,745.4 H465.2" fill="#fff" stroke="#111" stroke-width="1.3" />
<rect x="477.1" y="652.9" width="3.6" height="26.7" rx="1.2" fill="#444" stroke="#111" stroke-width="1"/>
<path d="M480.7,656.4 H492.1 Q494.6,656.4 494.6,658.9 V673.6 H489.1 V677.1 H480.7" fill="#fff" stroke="#111" stroke-width="1.3" />
<circle cx="490.7" cy="671.1" r="1.5" fill="none" stroke="#111" stroke-width="0.9"/>
<rect x="488.3" y="673.1" width="4.6" height="3" fill="#fff" stroke="#111" stroke-width="0.9"/>
<rect x="477.1" y="700" width="3.6" height="28.2" rx="1.2" fill="#444" stroke="#111" stroke-width="1"/>
<path d="M480.7,703.5 H492.1 Q494.6,703.5 494.6,706 V722.2 H489.1 V725.7 H480.7" fill="#fff" stroke="#111" stroke-width="1.3" />
<circle cx="490.7" cy="719.7" r="1.5" fill="none" stroke="#111" stroke-width="0.9"/>
<rect x="488.3" y="721.7" width="4.6" height="3" fill="#fff" stroke="#111" stroke-width="0.9"/>
<rect x="405" y="754.8" width="53" height="127" fill="#fff" stroke="#111" stroke-width="1.3"/>
<rect x="458" y="754.8" width="7.3" height="127" fill="#fff" stroke="#111" stroke-width="1.2"/>
<path d="M459.5,782.8 Q463,782.8 463,786.8 V849.8 Q463,853.8 459.5,853.8" fill="none" stroke="#111" stroke-width="1.2" />
<rect x="443.6" y="762.6" width="21.1" height="14.3" fill="#fff" stroke="#111" stroke-width="1.3" rx="2"/>
<circle cx="445.8" cy="764.8" r="2" fill="#222"/>
<circle cx="462.5" cy="764.8" r="2" fill="#222"/>
<circle cx="445.8" cy="774.7" r="2" fill="#222"/>
<circle cx="462.5" cy="774.7" r="2" fill="#222"/>
<line x1="457.7" y1="762.6" x2="457.7" y2="776.9" stroke="#111" stroke-width="1.1"/>
<rect x="452.3" y="763.5" width="3.6" height="12.5" fill="#fff" stroke="#111" stroke-width="0.9"/>
<line x1="452.3" y1="767.75" x2="455.9" y2="767.75" stroke="#111" stroke-width="0.9"/>
<line x1="452.3" y1="771.75" x2="455.9" y2="771.75" stroke="#111" stroke-width="0.9"/>
<path d="M448,769.75 L450.5,767.75 M448,769.75 L450.5,771.75" fill="none" stroke="#111" stroke-width="0.9" />
<rect x="443.6" y="862.6" width="21.1" height="14.3" fill="#fff" stroke="#111" stroke-width="1.3" rx="2"/>
<circle cx="445.8" cy="864.8" r="2" fill="#222"/>
<circle cx="462.5" cy="864.8" r="2" fill="#222"/>
<circle cx="445.8" cy="874.7" r="2" fill="#222"/>
<circle cx="462.5" cy="874.7" r="2" fill="#222"/>
<line x1="457.7" y1="862.6" x2="457.7" y2="876.9" stroke="#111" stroke-width="1.1"/>
<rect x="452.3" y="863.5" width="3.6" height="12.5" fill="#fff" stroke="#111" stroke-width="0.9"/>
<line x1="452.3" y1="867.75" x2="455.9" y2="867.75" stroke="#111" stroke-width="0.9"/>
<line x1="452.3" y1="871.75" x2="455.9" y2="871.75" stroke="#111" stroke-width="0.9"/>
<path d="M448,869.75 L450.5,867.75 M448,869.75 L450.5,871.75" fill="none" stroke="#111" stroke-width="0.9" />
<use href="#glds" transform="translate(418.2 881.8) scale(1.07 1.11)"/>
<path d="M405.2,495.5 Q404.5,494.8 403,494.8 H398 M405.2,512.5 Q404.5,513.2 403,513.2 H398" fill="none" stroke="#111" stroke-width="1.5" />
<line x1="404.4" y1="495.2" x2="404.4" y2="512.8" stroke="#111" stroke-width="1.3"/>
<circle cx="398" cy="494.8" r="0.9" fill="#111"/>
<circle cx="398" cy="513.2" r="0.9" fill="#111"/>
<rect x="400.5" y="501.6" width="3.8" height="5.2" fill="#333" stroke="#111" stroke-width="0.8" rx="0.8"/>
<path d="M405.2,868.5 Q404.5,867.8 403,867.8 H398 M405.2,885.5 Q404.5,886.2 403,886.2 H398" fill="none" stroke="#111" stroke-width="1.5" />
<line x1="404.4" y1="868.2" x2="404.4" y2="885.8" stroke="#111" stroke-width="1.3"/>
<circle cx="398" cy="867.8" r="0.9" fill="#111"/>
<circle cx="398" cy="886.2" r="0.9" fill="#111"/>
<rect x="400.5" y="874.6" width="3.8" height="5.2" fill="#333" stroke="#111" stroke-width="0.8" rx="0.8"/>
<use href="#glus" transform="translate(1044.8 416.7) scale(0.91 0.98)"/>
<use href="#glus" transform="translate(1063.9 416.7) scale(1.09 0.98)"/>
<rect x="1035.8" y="440.3" width="52.5" height="127.2" fill="#fff" stroke="#111" stroke-width="1.3"/>
<rect x="1088.3" y="440.3" width="8.2" height="127.2" fill="#fff" stroke="#111" stroke-width="1.2"/>
<path d="M1089.8,470.3 Q1093.3,470.3 1093.3,474.3 V533.5 Q1093.3,537.5 1089.8,537.5" fill="none" stroke="#111" stroke-width="1.2" />
<rect x="1073.9" y="447.1" width="22" height="14.3" fill="#fff" stroke="#111" stroke-width="1.3" rx="2"/>
<circle cx="1076.1" cy="449.3" r="2" fill="#222"/>
<circle cx="1093.7" cy="449.3" r="2" fill="#222"/>
<circle cx="1076.1" cy="459.2" r="2" fill="#222"/>
<circle cx="1093.7" cy="459.2" r="2" fill="#222"/>
<line x1="1088.9" y1="447.1" x2="1088.9" y2="461.4" stroke="#111" stroke-width="1.1"/>
<rect x="1083.5" y="448" width="3.6" height="12.5" fill="#fff" stroke="#111" stroke-width="0.9"/>
<line x1="1083.5" y1="452.25" x2="1087.1" y2="452.25" stroke="#111" stroke-width="0.9"/>
<line x1="1083.5" y1="456.25" x2="1087.1" y2="456.25" stroke="#111" stroke-width="0.9"/>
<path d="M1078.3,454.25 L1080.8,452.25 M1078.3,454.25 L1080.8,456.25" fill="none" stroke="#111" stroke-width="0.9" />
<rect x="1073.9" y="544.1" width="22" height="14.3" fill="#fff" stroke="#111" stroke-width="1.3" rx="2"/>
<circle cx="1076.1" cy="546.3" r="2" fill="#222"/>
<circle cx="1093.7" cy="546.3" r="2" fill="#222"/>
<circle cx="1076.1" cy="556.2" r="2" fill="#222"/>
<circle cx="1093.7" cy="556.2" r="2" fill="#222"/>
<line x1="1088.9" y1="544.1" x2="1088.9" y2="558.4" stroke="#111" stroke-width="1.1"/>
<rect x="1083.5" y="545" width="3.6" height="12.5" fill="#fff" stroke="#111" stroke-width="0.9"/>
<line x1="1083.5" y1="549.25" x2="1087.1" y2="549.25" stroke="#111" stroke-width="0.9"/>
<line x1="1083.5" y1="553.25" x2="1087.1" y2="553.25" stroke="#111" stroke-width="0.9"/>
<path d="M1078.3,551.25 L1080.8,549.25 M1078.3,551.25 L1080.8,553.25" fill="none" stroke="#111" stroke-width="0.9" />
<path d="M1096.5,510 H1099.5 Q1106,510 1106,518 Q1106,526 1099.5,526 H1096.5" fill="#fff" stroke="#111" stroke-width="1.5" />
<line x1="1103.5" y1="514" x2="1103.5" y2="522" stroke="#666" stroke-width="0.8"/>
<path d="M1096.5,535 H1099.5 Q1106,535 1106,543 Q1106,551 1099.5,551 H1096.5" fill="#fff" stroke="#111" stroke-width="1.5" />
<line x1="1103.5" y1="539" x2="1103.5" y2="547" stroke="#666" stroke-width="0.8"/>
<rect x="1035.8" y="567.5" width="59.7" height="180.9" fill="#fff" stroke="#111" stroke-width="1.4"/>
<line x1="1084.5" y1="567.5" x2="1084.5" y2="748.4" stroke="#111" stroke-width="1.2"/>
<line x1="1089" y1="567.5" x2="1089" y2="748.4" stroke="#111" stroke-width="1.2"/>
<line x1="1092" y1="567.5" x2="1092" y2="748.4" stroke="#111" stroke-width="0.9"/>
<path d="M1035.8,578.5 H1084.5 M1035.8,737.4 H1084.5" fill="none" stroke="#111" stroke-width="1.2" />
<path d="M1040.8,567.5 V588.5 H1035.8 M1040.8,748.4 V727.4 H1035.8" fill="none" stroke="#111" stroke-width="1.1" />
<line x1="1081" y1="567.5" x2="1081" y2="578.5" stroke="#111" stroke-width="1.0"/>
<line x1="1081" y1="748.4" x2="1081" y2="737.4" stroke="#111" stroke-width="1.0"/>
<rect x="1082.9" y="578.5" width="2.4" height="6" fill="#333" stroke="none" stroke-width="0" rx="1"/>
<rect x="1082.9" y="616.73" width="2.4" height="6" fill="#333" stroke="none" stroke-width="0" rx="1"/>
<rect x="1082.9" y="654.95" width="2.4" height="6" fill="#333" stroke="none" stroke-width="0" rx="1"/>
<rect x="1082.9" y="693.17" width="2.4" height="6" fill="#333" stroke="none" stroke-width="0" rx="1"/>
<rect x="1082.9" y="731.4" width="2.4" height="6" fill="#333" stroke="none" stroke-width="0" rx="1"/>
<path d="M1084.5,602.3 A2,2.2 0 0 1 1084.5,606.7" fill="none" stroke="#111" stroke-width="1.1" />
<circle cx="1085.3" cy="604.5" r="0.9" fill="#111"/>
<path d="M1084.5,703.6 A2,2.2 0 0 1 1084.5,708" fill="none" stroke="#111" stroke-width="1.1" />
<circle cx="1085.3" cy="705.8" r="0.9" fill="#111"/>
<path d="M1084.5,607.3 A2,2.2 0 0 1 1084.5,611.7" fill="none" stroke="#111" stroke-width="1.1" />
<circle cx="1085.3" cy="609.5" r="0.9" fill="#111"/>
<path d="M1084.5,708.6 A2,2.2 0 0 1 1084.5,713" fill="none" stroke="#111" stroke-width="1.1" />
<circle cx="1085.3" cy="710.8" r="0.9" fill="#111"/>
<path d="M1095.5,578 H1107.6 Q1109.6,578 1109.6,580 V738.6 Q1109.6,740.6 1107.6,740.6 H1095.5" fill="#fff" stroke="#111" stroke-width="1.3" />
<rect x="1109.6" y="594.7" width="3.6" height="24.5" rx="1.2" fill="#444" stroke="#111" stroke-width="1"/>
<path d="M1113.2,598.2 H1124.6 Q1127.1,598.2 1127.1,600.7 V613.2 H1121.6 V616.7 H1113.2" fill="#fff" stroke="#111" stroke-width="1.3" />
<circle cx="1123.2" cy="610.7" r="1.5" fill="none" stroke="#111" stroke-width="0.9"/>
<rect x="1120.8" y="612.7" width="4.6" height="3" fill="#fff" stroke="#111" stroke-width="0.9"/>
<rect x="1109.6" y="645" width="3.6" height="22.5" rx="1.2" fill="#444" stroke="#111" stroke-width="1"/>
<path d="M1113.2,648.5 H1124.6 Q1127.1,648.5 1127.1,651 V661.5 H1121.6 V665 H1113.2" fill="#fff" stroke="#111" stroke-width="1.3" />
<circle cx="1123.2" cy="659" r="1.5" fill="none" stroke="#111" stroke-width="0.9"/>
<rect x="1120.8" y="661" width="4.6" height="3" fill="#fff" stroke="#111" stroke-width="0.9"/>
<rect x="1109.6" y="693.6" width="3.6" height="22" rx="1.2" fill="#444" stroke="#111" stroke-width="1"/>
<path d="M1113.2,697.1 H1124.6 Q1127.1,697.1 1127.1,699.6 V709.6 H1121.6 V713.1 H1113.2" fill="#fff" stroke="#111" stroke-width="1.3" />
<circle cx="1123.2" cy="707.1" r="1.5" fill="none" stroke="#111" stroke-width="0.9"/>
<rect x="1120.8" y="709.1" width="4.6" height="3" fill="#fff" stroke="#111" stroke-width="0.9"/>
<rect x="1035.8" y="748.4" width="52.5" height="128.4" fill="#fff" stroke="#111" stroke-width="1.3"/>
<rect x="1088.3" y="748.4" width="8.2" height="128.4" fill="#fff" stroke="#111" stroke-width="1.2"/>
<path d="M1089.8,776.4 Q1093.3,776.4 1093.3,780.4 V844.8 Q1093.3,848.8 1089.8,848.8" fill="none" stroke="#111" stroke-width="1.2" />
<rect x="1073.9" y="757.6" width="22" height="14.3" fill="#fff" stroke="#111" stroke-width="1.3" rx="2"/>
<circle cx="1076.1" cy="759.8" r="2" fill="#222"/>
<circle cx="1093.7" cy="759.8" r="2" fill="#222"/>
<circle cx="1076.1" cy="769.7" r="2" fill="#222"/>
<circle cx="1093.7" cy="769.7" r="2" fill="#222"/>
<line x1="1088.9" y1="757.6" x2="1088.9" y2="771.9" stroke="#111" stroke-width="1.1"/>
<rect x="1083.5" y="758.5" width="3.6" height="12.5" fill="#fff" stroke="#111" stroke-width="0.9"/>
<line x1="1083.5" y1="762.75" x2="1087.1" y2="762.75" stroke="#111" stroke-width="0.9"/>
<line x1="1083.5" y1="766.75" x2="1087.1" y2="766.75" stroke="#111" stroke-width="0.9"/>
<path d="M1078.3,764.75 L1080.8,762.75 M1078.3,764.75 L1080.8,766.75" fill="none" stroke="#111" stroke-width="0.9" />
<rect x="1073.9" y="854.6" width="22" height="14.3" fill="#fff" stroke="#111" stroke-width="1.3" rx="2"/>
<circle cx="1076.1" cy="856.8" r="2" fill="#222"/>
<circle cx="1093.7" cy="856.8" r="2" fill="#222"/>
<circle cx="1076.1" cy="866.7" r="2" fill="#222"/>
<circle cx="1093.7" cy="866.7" r="2" fill="#222"/>
<line x1="1088.9" y1="854.6" x2="1088.9" y2="868.9" stroke="#111" stroke-width="1.1"/>
<rect x="1083.5" y="855.5" width="3.6" height="12.5" fill="#fff" stroke="#111" stroke-width="0.9"/>
<line x1="1083.5" y1="859.75" x2="1087.1" y2="859.75" stroke="#111" stroke-width="0.9"/>
<line x1="1083.5" y1="863.75" x2="1087.1" y2="863.75" stroke="#111" stroke-width="0.9"/>
<path d="M1078.3,861.75 L1080.8,859.75 M1078.3,861.75 L1080.8,863.75" fill="none" stroke="#111" stroke-width="0.9" />
<use href="#glds" transform="translate(1048.5 876.8) scale(1.07 1.06)"/>
<path d="M1036,436 Q1035.3,435.3 1033.8,435.3 H1028.8 M1036,453 Q1035.3,453.7 1033.8,453.7 H1028.8" fill="none" stroke="#111" stroke-width="1.5" />
<line x1="1035.2" y1="435.7" x2="1035.2" y2="453.3" stroke="#111" stroke-width="1.3"/>
<circle cx="1028.8" cy="435.3" r="0.9" fill="#111"/>
<circle cx="1028.8" cy="453.7" r="0.9" fill="#111"/>
<rect x="1031.3" y="442.1" width="3.8" height="5.2" fill="#333" stroke="#111" stroke-width="0.8" rx="0.8"/>
<path d="M1036,863 Q1035.3,862.3 1033.8,862.3 H1028.8 M1036,880 Q1035.3,880.7 1033.8,880.7 H1028.8" fill="none" stroke="#111" stroke-width="1.5" />
<line x1="1035.2" y1="862.7" x2="1035.2" y2="880.3" stroke="#111" stroke-width="1.3"/>
<circle cx="1028.8" cy="862.3" r="0.9" fill="#111"/>
<circle cx="1028.8" cy="880.7" r="0.9" fill="#111"/>
<rect x="1031.3" y="869.1" width="3.8" height="5.2" fill="#333" stroke="#111" stroke-width="0.8" rx="0.8"/>
<line x1="404.6" y1="468" x2="404.6" y2="499" stroke="#333" stroke-width="0.9"/>
<line x1="477.4" y1="468" x2="477.4" y2="640" stroke="#333" stroke-width="0.9"/>
<line x1="404.6" y1="472.2" x2="477.4" y2="472.2" stroke="#333" stroke-width="1.0"/>
<polygon points="404.6,472.2 416.1,470.2 416.1,474.2" fill="#111"/>
<polygon points="477.4,472.2 465.9,470.2 465.9,474.2" fill="#111"/>
<text x="428.14" y="469.7" font-size="15.86" textLength="25.11" lengthAdjust="spacingAndGlyphs" fill="#1a1a1a">180</text>
<line x1="1035.3" y1="408" x2="1035.3" y2="440" stroke="#333" stroke-width="0.9"/>
<line x1="1108.7" y1="408" x2="1108.7" y2="580" stroke="#333" stroke-width="0.9"/>
<line x1="1035.3" y1="412" x2="1108.7" y2="412" stroke="#333" stroke-width="1.0"/>
<polygon points="1035.3,412 1046.8,410 1046.8,414" fill="#111"/>
<polygon points="1108.7,412 1097.2,410 1097.2,414" fill="#111"/>
<text x="1057.79" y="409.9" font-size="17.43" textLength="25.72" lengthAdjust="spacingAndGlyphs" fill="#1a1a1a">180</text>
<text x="163.94" y="325.8" font-size="20.78" textLength="27.06" lengthAdjust="spacingAndGlyphs" fill="#111">BX</text>
<rect x="193.75" y="310.05" width="13.5" height="13.9" fill="none" stroke="#666" stroke-width="1.1"/>
<text x="210.67" y="325.8" font-size="20.78" textLength="279.86" lengthAdjust="spacingAndGlyphs" fill="#111">51-16KXX (with master switch)</text>
<text x="821.77" y="320" font-size="20.35" textLength="28.43" lengthAdjust="spacingAndGlyphs" fill="#111">BX</text>
<rect x="851.85" y="305.85" width="16.3" height="15.6" fill="none" stroke="#666" stroke-width="1.1"/>
<text x="869.89" y="320" font-size="20.35" textLength="79.62" lengthAdjust="spacingAndGlyphs" fill="#111">51-18XX</text>
<text x="203.51" y="937.6" font-size="19.91" textLength="27.39" lengthAdjust="spacingAndGlyphs" fill="#111">BX</text>
<rect x="231.8" y="923.65" width="17.05" height="15.8" fill="none" stroke="#666" stroke-width="1.1"/>
<text x="250.45" y="937.6" font-size="19.91" textLength="79.15" lengthAdjust="spacingAndGlyphs" fill="#111">51-10XX</text>
<text x="855.34" y="936.3" font-size="20.78" textLength="28.66" lengthAdjust="spacingAndGlyphs" fill="#111">BX</text>
<rect x="884.95" y="921.8" width="16.4" height="16.4" fill="none" stroke="#666" stroke-width="1.1"/>
<text x="902.92" y="936.3" font-size="20.78" textLength="80.49" lengthAdjust="spacingAndGlyphs" fill="#111">51-12XX</text>
</svg>
</body></html>
